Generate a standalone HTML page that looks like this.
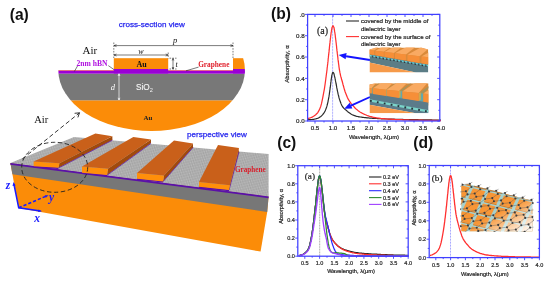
<!DOCTYPE html>
<html><head><meta charset="utf-8"><title>Figure</title>
<style>html,body{margin:0;padding:0;background:#fff}svg{display:block}text{white-space:pre}</style></head>
<body>
<svg width="550" height="285" viewBox="0 0 550 285">
<rect width="550" height="285" fill="#fff"/>
<text x="9.7" y="20.1" font-family='"Liberation Sans", sans-serif' font-size="15.6" fill="#111" text-anchor="start" font-weight="bold" font-style="normal" >(a)</text>
<text x="271.0" y="18.6" font-family='"Liberation Sans", sans-serif' font-size="15.6" fill="#111" text-anchor="start" font-weight="bold" font-style="normal" >(b)</text>
<text x="277.2" y="148.3" font-family='"Liberation Sans", sans-serif' font-size="15.6" fill="#111" text-anchor="start" font-weight="bold" font-style="normal" >(c)</text>
<text x="413.2" y="148.1" font-family='"Liberation Sans", sans-serif' font-size="15.6" fill="#111" text-anchor="start" font-weight="bold" font-style="normal" >(d)</text>
<defs><clipPath id="ell"><ellipse cx="151.6" cy="70" rx="93.3" ry="61"/></clipPath>
<pattern id="mesh" width="4" height="4" patternUnits="userSpaceOnUse" patternTransform="matrix(1.5 0.2 1.36 -0.62 0 0)"><rect width="4" height="4" fill="#d0d0d0"/><path d="M0 0.5 H4 M0 1.5 H4 M0 2.5 H4 M0 3.5 H4 M0.5 0 V4 M1.5 0 V4 M2.5 0 V4 M3.5 0 V4" stroke="#8a8a8a" stroke-width="0.3" fill="none"/></pattern>
</defs>
<g clip-path="url(#ell)">
<rect x="50" y="100.3" width="210" height="40" fill="#fb8c08"/>
<rect x="50" y="73.5" width="210" height="26.8" fill="#787878"/>
<rect x="50" y="70.9" width="210" height="2.7" fill="#9a00d6"/>
<rect x="50" y="70.45" width="210" height="0.55" fill="#d0102a"/>
<rect x="113.8" y="58.2" width="54.4" height="11" fill="#fb8c08"/>
<rect x="113.8" y="69" width="54.4" height="4.5" fill="#9a00d6"/>
<rect x="233" y="58.2" width="20" height="11" fill="#fb8c08"/>
<rect x="233" y="69" width="20" height="4.5" fill="#9a00d6"/>
</g>
<g stroke="#222" stroke-width="0.6" fill="none">
<path d="M113.8 42.5 V58" stroke-dasharray="1.6 1.2"/>
<path d="M233 42.5 V58" stroke-dasharray="1.6 1.2"/>
<path d="M168.2 52.5 V58.5" stroke-dasharray="1.6 1.2"/>
<path d="M114 45.6 H233 M114 55 H168"/>
<path d="M116.5 44.6 L114 45.6 L116.5 46.6 M230.5 44.6 L233 45.6 L230.5 46.6 M116.5 54 L114 55 L116.5 56 M165.700 54 L168.2 55 L165.7 56"/>
<path d="M169.5 58.2 H176.5 M169.5 69 H176.5" stroke-dasharray="1.6 1.2"/>
<path d="M173 58.5 V69 M172.2 60.5 L173 58.5 L173.8 60.500 M172.2 67 L173 69 L173.8 67"/>
<path d="M77.5 66 L74.4 71.4 M108.3 65.6 L114 69.6 M198.6 67.1 L186 70.8"/>
</g>
<path d="M119 73.8 V100 M118.100 76 L119 73.8 L119.9 76 M118.1 97.800 L119 100 L119.9 97.8" stroke="#fff" stroke-width="0.7" fill="none"/>
<text x="151.8" y="27.2" font-family='"Liberation Sans", sans-serif' font-size="8.1" fill="#2525ee" text-anchor="middle" font-weight="normal" font-style="normal" stroke="#2525ee" stroke-width="0.25">cross-section view</text>
<text x="217" y="137.4" font-family='"Liberation Sans", sans-serif' font-size="8.1" fill="#2525ee" text-anchor="middle" font-weight="normal" font-style="normal" stroke="#2525ee" stroke-width="0.25">perspective view</text>
<text x="82.5" y="54.2" font-family='"Liberation Serif", serif' font-size="11" fill="#111" text-anchor="start" font-weight="normal" font-style="normal" >Air</text>
<text x="34.2" y="123" font-family='"Liberation Serif", serif' font-size="10.5" fill="#111" text-anchor="start" font-weight="normal" font-style="normal" >Air</text>
<text x="76.5" y="66.3" font-family='"Liberation Serif", serif' font-size="7.6" fill="#b010e0" text-anchor="start" font-weight="bold" font-style="normal" >2nm hBN</text>
<text x="198.2" y="66.8" font-family='"Liberation Serif", serif' font-size="7.3" fill="#e0202c" text-anchor="start" font-weight="bold" font-style="normal" >Graphene</text>
<text x="141.5" y="66.8" font-family='"Liberation Serif", serif' font-size="8" fill="#111" text-anchor="middle" font-weight="bold" font-style="normal" >Au</text>
<text x="148" y="120" font-family='"Liberation Serif", serif' font-size="7" fill="#222" text-anchor="middle" font-weight="bold" font-style="normal" >Au</text>
<text x="136" y="90.3" font-family='"Liberation Sans", sans-serif' font-size="8.2" fill="#f4f4f4" text-anchor="start" font-weight="normal" font-style="normal" stroke="#f4f4f4" stroke-width="0.15">SiO</text>
<text x="149.8" y="92.4" font-family='"Liberation Sans", sans-serif' font-size="5.6" fill="#f4f4f4" text-anchor="start" font-weight="normal" font-style="normal" >2</text>
<text x="110.8" y="90.2" font-family='"Liberation Serif", serif' font-size="8.5" fill="#fff" text-anchor="start" font-weight="normal" font-style="italic" >d</text>
<text x="140.8" y="54" font-family='"Liberation Serif", serif' font-size="8" fill="#111" text-anchor="middle" font-weight="normal" font-style="italic" >w</text>
<text x="175.2" y="43.2" font-family='"Liberation Serif", serif' font-size="8.5" fill="#111" text-anchor="middle" font-weight="normal" font-style="italic" >p</text>
<text x="175.5" y="66.6" font-family='"Liberation Serif", serif' font-size="8" fill="#111" text-anchor="start" font-weight="normal" font-style="italic" >t</text>
<polygon points="10.4,163 268.6,196.5 267.2,212 260.6,251.6 18.5,208" fill="#fb8c08"/>
<polygon points="10.4,163 268.6,196.5 267.2,212 12.4,174.300" fill="#777"/>
<polygon points="10.4,163 74,137 268.6,154 268.6,196.5" fill="url(#mesh)"/>
<path d="M10.4 163.8 L268.6 197.3" stroke="#5b10a8" stroke-width="1.8"/>
<polygon points="59.4,163.2 112.4,136.3 112.4,139.9 58.4,167.79999999999998" fill="#a04a0c"/>
<path d="M58.4 168.1 L112.4 140.20000000000002" stroke="#5b10a8" stroke-width="0.7"/>
<polygon points="33.6,165.7 58.4,167.29999999999998 58.4,168.99999999999997 33.6,167.39999999999998" fill="#5b10a8"/>
<polygon points="33.6,161.6 59.4,163.2 58.4,167.79999999999998 33.6,166.2" fill="#ff8f0a"/>
<polygon points="33.6,161.6 59.4,163.2 112.4,136.3 95.4,133.5" fill="#c9601a"/>
<polygon points="108,168.8 151,139.5 151,143.1 107,175.0" fill="#a04a0c"/>
<path d="M107 175.3 L151 143.4" stroke="#5b10a8" stroke-width="0.7"/>
<polygon points="82,172.29999999999998 107,174.5 107,176.2 82,173.99999999999997" fill="#5b10a8"/>
<polygon points="82,166.6 108,168.8 107,175.0 82,172.79999999999998" fill="#ff8f0a"/>
<polygon points="82,166.6 108,168.8 151,139.5 133.3,137" fill="#c9601a"/>
<polygon points="164,175.6 193,143.6 193,147.2 163,181.4" fill="#a04a0c"/>
<path d="M163 181.70000000000002 L193 147.5" stroke="#5b10a8" stroke-width="0.7"/>
<polygon points="137,178.3 163,180.9 163,182.6 137,180.0" fill="#5b10a8"/>
<polygon points="137,173 164,175.6 163,181.4 137,178.8" fill="#ff8f0a"/>
<polygon points="137,173 164,175.6 193,143.6 174,140.4" fill="#c9601a"/>
<polygon points="230,185.2 239,148 239,151.6 229,190.0" fill="#a04a0c"/>
<path d="M229 190.3 L239 151.9" stroke="#5b10a8" stroke-width="0.7"/>
<polygon points="199,186.3 229,189.5 229,191.2 199,188.0" fill="#5b10a8"/>
<polygon points="199,182 230,185.2 229,190.0 199,186.8" fill="#ff8f0a"/>
<polygon points="199,182 230,185.2 239,148 218,145" fill="#c9601a"/>
<ellipse cx="54.7" cy="167.3" rx="33" ry="25" fill="none" stroke="#222" stroke-width="0.9" stroke-dasharray="4.4 2.6"/>
<path d="M22.3 159 L79.5 112.8" fill="none" stroke="#222" stroke-width="0.9" stroke-dasharray="4.4 2.6"/>
<path d="M74.6 113.300 L79.5 112.8 L77.9 117.400" fill="none" stroke="#222" stroke-width="0.9"/>
<g stroke="#1a1aff" fill="none" stroke-width="1.5"><path d="M13.9 184 L18.700 207.800 L40.5 211"/><path d="M18.7 207.8 L46.5 196" stroke-dasharray="3.200 2"/></g>
<g fill="#1a1aff"><polygon points="13.500,182 12.500,186 15.600,185.400"/><polygon points="42,211.200 38.500,209.400 38.100,212.100"/><polygon points="48.500,195.200 44.700,195.300 45.800,197.800"/></g>
<text x="5.8" y="188.6" font-family='"Liberation Serif", serif' font-size="11.5" fill="#1a1aff" text-anchor="start" font-weight="bold" font-style="italic" >z</text>
<text x="49" y="201" font-family='"Liberation Serif", serif' font-size="11.5" fill="#1a1aff" text-anchor="start" font-weight="bold" font-style="italic" >y</text>
<text x="34.2" y="222" font-family='"Liberation Serif", serif' font-size="11.5" fill="#1a1aff" text-anchor="start" font-weight="bold" font-style="italic" >x</text>
<text x="235" y="171.6" font-family='"Liberation Serif", serif' font-size="7.2" fill="#d8202c" text-anchor="start" font-weight="bold" font-style="normal" >Graphene</text>
<path d="M332.6 14.4 V121" stroke="#4a4aff" stroke-width="0.6" stroke-dasharray="0.8 0.7"/>
<path d="M307.8 119.8 L308.5 119.7 L309.2 119.7 L310.0 119.6 L310.7 119.6 L311.4 119.5 L312.1 119.5 L312.8 119.4 L313.6 119.3 L314.3 119.2 L315.0 119.0 L315.7 118.9 L316.4 118.7 L317.2 118.5 L317.9 118.2 L318.6 117.9 L319.3 117.5 L320.0 117.0 L320.8 116.5 L321.5 115.9 L322.2 115.2 L322.9 114.4 L323.6 113.4 L324.4 112.3 L325.1 111.0 L325.8 109.3 L325.8 109.3 L325.9 109.0 L326.1 108.6 L326.2 108.2 L326.4 107.8 L326.5 107.3 L326.5 107.3 L326.7 106.9 L326.8 106.4 L327.0 105.9 L327.1 105.4 L327.2 104.9 L327.2 104.9 L327.4 104.3 L327.5 103.7 L327.7 103.1 L327.8 102.5 L328.0 101.8 L328.0 101.8 L328.1 101.1 L328.2 100.4 L328.4 99.7 L328.5 98.9 L328.7 98.1 L328.7 98.1 L328.8 97.3 L329.0 96.4 L329.1 95.5 L329.3 94.5 L329.4 93.6 L329.4 93.6 L329.5 92.6 L329.7 91.6 L329.8 90.5 L330.0 89.5 L330.1 88.4 L330.1 88.4 L330.3 87.2 L330.4 86.1 L330.6 84.9 L330.7 83.7 L330.8 82.6 L330.8 82.6 L331.0 81.4 L331.1 80.3 L331.3 79.2 L331.4 78.2 L331.6 77.2 L331.6 77.2 L331.7 76.3 L331.8 75.5 L332.0 74.7 L332.1 74.1 L332.3 73.5 L332.3 73.5 L332.4 73.1 L332.6 72.7 L332.7 72.5 L332.9 72.3 L333.0 72.3 L333.0 72.3 L333.0 72.3 L333.1 72.3 L333.3 72.5 L333.4 72.7 L333.6 72.9 L333.7 73.3 L333.7 73.3 L333.9 73.7 L334.0 74.1 L334.2 74.6 L334.3 75.1 L334.4 75.7 L334.4 75.7 L334.6 76.3 L334.7 76.9 L334.9 77.6 L335.0 78.2 L335.2 78.9 L335.2 78.9 L335.3 79.7 L335.4 80.4 L335.6 81.2 L335.7 81.9 L335.9 82.7 L335.9 82.7 L336.0 83.5 L336.2 84.3 L336.3 85.0 L336.5 85.8 L336.6 86.6 L336.6 86.6 L336.7 87.4 L336.9 88.1 L337.0 88.8 L337.2 89.6 L337.3 90.3 L337.3 90.3 L337.5 91.0 L337.6 91.7 L337.8 92.4 L337.9 93.0 L338.0 93.6 L338.0 93.6 L338.2 94.3 L338.3 94.9 L338.5 95.5 L338.6 96.0 L338.8 96.6 L338.8 96.6 L338.9 97.1 L339.0 97.7 L339.2 98.2 L339.3 98.7 L339.5 99.2 L339.5 99.2 L339.6 99.7 L339.8 100.1 L339.9 100.6 L340.1 101.0 L340.2 101.4 L340.2 101.4 L340.3 101.8 L340.5 102.2 L340.6 102.6 L340.8 103.0 L340.9 103.3 L340.9 103.3 L341.1 103.7 L341.2 104.0 L341.4 104.3 L341.5 104.7 L341.6 105.0 L341.6 105.0 L341.8 105.2 L341.9 105.5 L342.1 105.8 L342.2 106.1 L342.4 106.3 L342.4 106.3 L342.5 106.5 L342.6 106.7 L342.8 107.0 L342.9 107.2 L343.1 107.3 L343.1 107.3 L343.2 107.5 L343.4 107.7 L343.5 107.9 L343.7 108.0 L343.8 108.2 L344.5 108.9 L345.2 109.5 L346.0 110.1 L346.7 110.7 L347.4 111.4 L348.1 112.0 L348.8 112.6 L349.6 113.1 L350.3 113.6 L351.0 114.1 L351.7 114.5 L352.4 114.8 L353.2 115.2 L353.9 115.4 L354.6 115.7 L355.3 115.9 L356.0 116.1 L356.8 116.3 L357.5 116.5 L358.2 116.6 L358.9 116.8 L359.6 116.9 L360.4 117.0 L361.1 117.1 L361.8 117.2 L362.5 117.3 L363.2 117.4 L364.0 117.5 L364.7 117.6 L365.4 117.7 L366.1 117.7 L366.8 117.8 L367.6 117.9 L368.3 117.9 L369.0 118.0 L369.7 118.1 L370.4 118.1 L371.2 118.2 L371.9 118.2 L372.6 118.3 L373.3 118.3 L374.0 118.4 L374.8 118.4 L375.5 118.5 L376.2 118.5 L376.9 118.5 L377.6 118.6 L378.4 118.6 L379.1 118.7 L379.8 118.7 L380.5 118.7 L381.2 118.8 L382.0 118.8 L382.7 118.9 L383.4 118.9 L384.1 118.9 L384.8 118.9 L385.6 119.0 L386.3 119.0 L387.0 119.0 L387.7 119.0 L388.4 119.1 L389.2 119.1 L389.9 119.1 L390.6 119.1 L391.3 119.2 L392.0 119.2 L392.8 119.2 L393.5 119.2 L394.2 119.2 L394.9 119.3 L395.6 119.3 L396.4 119.3 L397.1 119.3 L397.8 119.3 L398.5 119.3 L399.2 119.4 L400.0 119.4 L400.7 119.4 L401.4 119.4 L402.1 119.4 L402.8 119.4 L403.6 119.5 L404.3 119.5 L405.0 119.5 L405.7 119.5 L406.4 119.5 L407.2 119.5 L407.9 119.5 L408.6 119.6 L409.3 119.6 L410.0 119.6 L410.8 119.6 L411.5 119.6 L412.2 119.6 L412.9 119.7 L413.6 119.7 L414.4 119.7 L415.1 119.7 L415.8 119.7 L416.5 119.7 L417.2 119.7 L418.0 119.7 L418.7 119.8 L419.4 119.8 L420.1 119.8 L420.8 119.8 L421.6 119.8 L422.3 119.8 L423.0 119.8 L423.7 119.8 L424.4 119.8 L425.2 119.9 L425.9 119.9 L426.6 119.9 L427.3 119.9 L428.0 119.9 L428.8 119.9 L429.5 119.9 L430.2 119.9 L430.9 119.9 L431.6 119.9 L432.4 120.0 L433.1 120.0 L433.8 120.0 L434.5 120.0 L435.2 120.0 L436.0 120.0 L436.7 120.0 L437.4 120.0 L438.1 120.0 L438.8 120.0 L439.6 120.1 L440.3 120.1 L441.0 120.1" fill="none" stroke="#2a2a2a" stroke-width="1.2" stroke-linejoin="round"/>
<path d="M307.8 118.6 L308.5 118.4 L309.2 118.2 L310.0 118.0 L310.7 117.7 L311.4 117.4 L312.1 117.1 L312.8 116.7 L313.6 116.3 L314.3 115.8 L315.0 115.3 L315.7 114.7 L316.4 114.0 L317.2 113.3 L317.9 112.3 L318.6 111.2 L319.3 109.9 L320.0 108.2 L320.8 106.2 L321.5 103.7 L322.2 100.4 L322.9 96.8 L323.6 93.1 L324.4 88.8 L325.1 84.1 L325.8 79.0 L325.8 79.0 L325.9 77.9 L326.1 76.8 L326.2 75.7 L326.4 74.6 L326.5 73.4 L326.5 73.4 L326.7 72.3 L326.8 71.2 L327.0 70.0 L327.1 68.8 L327.2 67.6 L327.2 67.6 L327.4 66.4 L327.5 65.2 L327.7 63.9 L327.8 62.6 L328.0 61.4 L328.0 61.4 L328.1 60.0 L328.2 58.7 L328.4 57.4 L328.5 56.0 L328.7 54.7 L328.7 54.7 L328.8 53.3 L329.0 51.9 L329.1 50.6 L329.3 49.2 L329.4 47.8 L329.4 47.8 L329.5 46.5 L329.7 45.1 L329.8 43.8 L330.0 42.4 L330.1 41.1 L330.1 41.1 L330.3 39.8 L330.4 38.6 L330.6 37.4 L330.7 36.2 L330.8 35.1 L330.8 35.1 L331.0 34.0 L331.1 32.9 L331.3 31.9 L331.4 31.0 L331.6 30.1 L331.6 30.1 L331.7 29.3 L331.8 28.6 L332.0 28.0 L332.1 27.4 L332.3 26.9 L332.3 26.9 L332.4 26.5 L332.6 26.2 L332.7 26.0 L332.9 25.9 L333.0 25.8 L333.0 25.8 L333.0 25.8 L333.1 25.9 L333.3 26.0 L333.4 26.2 L333.6 26.5 L333.7 26.9 L333.7 26.9 L333.9 27.4 L334.0 28.0 L334.2 28.6 L334.3 29.3 L334.4 30.1 L334.4 30.1 L334.6 31.0 L334.7 31.9 L334.9 32.8 L335.0 33.8 L335.2 34.9 L335.2 34.9 L335.3 36.0 L335.4 37.1 L335.6 38.3 L335.7 39.5 L335.9 40.7 L335.9 40.7 L336.0 42.0 L336.2 43.2 L336.3 44.5 L336.5 45.8 L336.6 47.0 L336.6 47.0 L336.7 48.3 L336.9 49.6 L337.0 50.9 L337.2 52.1 L337.3 53.4 L337.3 53.4 L337.5 54.6 L337.6 55.8 L337.8 57.1 L337.9 58.2 L338.0 59.4 L338.0 59.4 L338.2 60.6 L338.3 61.7 L338.5 62.9 L338.6 64.0 L338.8 65.0 L338.8 65.0 L338.9 66.1 L339.0 67.1 L339.2 68.1 L339.3 69.1 L339.5 70.0 L339.5 70.0 L339.6 70.8 L339.8 71.6 L339.9 72.4 L340.1 73.1 L340.2 73.8 L340.2 73.8 L340.3 74.5 L340.5 75.1 L340.6 75.7 L340.8 76.3 L340.9 76.9 L340.9 76.9 L341.1 77.5 L341.2 78.0 L341.4 78.5 L341.5 79.1 L341.6 79.6 L341.6 79.6 L341.8 80.1 L341.9 80.6 L342.1 81.1 L342.2 81.6 L342.4 82.1 L342.4 82.1 L342.5 82.6 L342.6 83.1 L342.8 83.6 L342.9 84.2 L343.1 84.7 L343.1 84.7 L343.2 85.3 L343.4 85.8 L343.5 86.3 L343.7 86.8 L343.8 87.3 L344.5 89.8 L345.2 92.0 L346.0 94.0 L346.7 95.8 L347.4 97.5 L348.1 98.9 L348.8 100.2 L349.6 101.3 L350.3 102.3 L351.0 103.3 L351.7 104.1 L352.4 105.0 L353.2 105.8 L353.9 106.6 L354.6 107.5 L355.3 108.2 L356.0 108.9 L356.8 109.5 L357.5 110.1 L358.2 110.7 L358.9 111.2 L359.6 111.7 L360.4 112.2 L361.1 112.6 L361.8 113.0 L362.5 113.4 L363.2 113.7 L364.0 114.1 L364.7 114.4 L365.4 114.7 L366.1 115.0 L366.8 115.3 L367.6 115.6 L368.3 115.8 L369.0 116.1 L369.7 116.3 L370.4 116.5 L371.2 116.7 L371.9 116.9 L372.6 117.1 L373.3 117.3 L374.0 117.4 L374.8 117.6 L375.5 117.7 L376.2 117.8 L376.9 117.9 L377.6 118.0 L378.4 118.1 L379.1 118.2 L379.8 118.3 L380.5 118.4 L381.2 118.5 L382.0 118.5 L382.7 118.6 L383.4 118.7 L384.1 118.7 L384.8 118.8 L385.6 118.8 L386.3 118.9 L387.0 119.0 L387.7 119.0 L388.4 119.1 L389.2 119.1 L389.9 119.2 L390.6 119.2 L391.3 119.2 L392.0 119.3 L392.8 119.3 L393.5 119.4 L394.2 119.4 L394.9 119.4 L395.6 119.5 L396.4 119.5 L397.1 119.5 L397.8 119.6 L398.5 119.6 L399.2 119.6 L400.0 119.7 L400.7 119.7 L401.4 119.7 L402.1 119.7 L402.8 119.8 L403.6 119.8 L404.3 119.8 L405.0 119.8 L405.7 119.9 L406.4 119.9 L407.2 119.9 L407.9 119.9 L408.6 119.9 L409.3 120.0 L410.0 120.0 L410.8 120.0 L411.5 120.0 L412.2 120.0 L412.9 120.1 L413.6 120.1 L414.4 120.1 L415.1 120.1 L415.8 120.1 L416.5 120.1 L417.2 120.1 L418.0 120.2 L418.7 120.2 L419.4 120.2 L420.1 120.2 L420.8 120.2 L421.6 120.2 L422.3 120.2 L423.0 120.3 L423.7 120.3 L424.4 120.3 L425.2 120.3 L425.9 120.3 L426.6 120.3 L427.3 120.3 L428.0 120.3 L428.8 120.3 L429.5 120.3 L430.2 120.4 L430.9 120.4 L431.6 120.4 L432.4 120.4 L433.1 120.4 L433.8 120.4 L434.5 120.4 L435.2 120.4 L436.0 120.4 L436.7 120.4 L437.4 120.4 L438.1 120.5 L438.8 120.5 L439.6 120.5 L440.3 120.5 L441.0 120.5" fill="none" stroke="#ff3030" stroke-width="1.25" stroke-linejoin="round"/>
<rect x="307.6" y="14.4" width="132.2" height="106.6" fill="none" stroke="#4040ff" stroke-width="1.25"/>
<path d="M315.0 121 v2.6 M315.0 14.4 v2.6 M333.0 121 v2.6 M333.0 14.4 v2.6 M351.0 121 v2.6 M351.0 14.4 v2.6 M369.0 121 v2.6 M369.0 14.4 v2.6 M387.0 121 v2.6 M387.0 14.4 v2.6 M405.0 121 v2.6 M405.0 14.4 v2.6 M423.0 121 v2.6 M423.0 14.4 v2.6 M324.0 121 v1.5 M324.0 14.4 v1.5 M342.0 121 v1.5 M342.0 14.4 v1.5 M360.0 121 v1.5 M360.0 14.4 v1.5 M378.0 121 v1.5 M378.0 14.4 v1.5 M396.0 121 v1.5 M396.0 14.4 v1.5 M414.0 121 v1.5 M414.0 14.4 v1.5 M432.0 121 v1.5 M432.0 14.4 v1.5 M307.6 121.0 h-2.6 M439.8 121.0 h-2.6 M307.6 99.7 h-2.6 M439.8 99.7 h-2.6 M307.6 78.4 h-2.6 M439.8 78.4 h-2.6 M307.6 57.0 h-2.6 M439.8 57.0 h-2.6 M307.6 35.7 h-2.6 M439.8 35.7 h-2.6 M307.6 14.4 h-2.6 M439.8 14.4 h-2.6 M307.6 110.3 h-1.5 M439.8 110.3 h-1.5 M307.6 89.0 h-1.5 M439.8 89.0 h-1.5 M307.6 67.7 h-1.5 M439.8 67.7 h-1.5 M307.6 46.4 h-1.5 M439.8 46.4 h-1.5 M307.6 25.1 h-1.5 M439.8 25.1 h-1.5" stroke="#4040ff" stroke-width="0.9" fill="none"/>
<text x="315.0" y="130.3" font-family='"Liberation Sans", sans-serif' font-size="6.2" fill="#2a2a2a" text-anchor="middle" font-weight="normal" font-style="normal" stroke="#2a2a2a" stroke-width="0.22">0.5</text>
<text x="333.0" y="130.3" font-family='"Liberation Sans", sans-serif' font-size="6.2" fill="#2a2a2a" text-anchor="middle" font-weight="normal" font-style="normal" stroke="#2a2a2a" stroke-width="0.22">1.0</text>
<text x="351.0" y="130.3" font-family='"Liberation Sans", sans-serif' font-size="6.2" fill="#2a2a2a" text-anchor="middle" font-weight="normal" font-style="normal" stroke="#2a2a2a" stroke-width="0.22">1.5</text>
<text x="369.0" y="130.3" font-family='"Liberation Sans", sans-serif' font-size="6.2" fill="#2a2a2a" text-anchor="middle" font-weight="normal" font-style="normal" stroke="#2a2a2a" stroke-width="0.22">2.0</text>
<text x="387.0" y="130.3" font-family='"Liberation Sans", sans-serif' font-size="6.2" fill="#2a2a2a" text-anchor="middle" font-weight="normal" font-style="normal" stroke="#2a2a2a" stroke-width="0.22">2.5</text>
<text x="405.0" y="130.3" font-family='"Liberation Sans", sans-serif' font-size="6.2" fill="#2a2a2a" text-anchor="middle" font-weight="normal" font-style="normal" stroke="#2a2a2a" stroke-width="0.22">3.0</text>
<text x="423.0" y="130.3" font-family='"Liberation Sans", sans-serif' font-size="6.2" fill="#2a2a2a" text-anchor="middle" font-weight="normal" font-style="normal" stroke="#2a2a2a" stroke-width="0.22">3.5</text>
<text x="441.0" y="130.3" font-family='"Liberation Sans", sans-serif' font-size="6.2" fill="#2a2a2a" text-anchor="middle" font-weight="normal" font-style="normal" stroke="#2a2a2a" stroke-width="0.22">4.0</text>
<text x="304.6" y="123.2" font-family='"Liberation Sans", sans-serif' font-size="6.2" fill="#2a2a2a" text-anchor="end" font-weight="normal" font-style="normal" stroke="#2a2a2a" stroke-width="0.22">0.0</text>
<text x="304.6" y="101.9" font-family='"Liberation Sans", sans-serif' font-size="6.2" fill="#2a2a2a" text-anchor="end" font-weight="normal" font-style="normal" stroke="#2a2a2a" stroke-width="0.22">0.2</text>
<text x="304.6" y="80.6" font-family='"Liberation Sans", sans-serif' font-size="6.2" fill="#2a2a2a" text-anchor="end" font-weight="normal" font-style="normal" stroke="#2a2a2a" stroke-width="0.22">0.4</text>
<text x="304.6" y="59.3" font-family='"Liberation Sans", sans-serif' font-size="6.2" fill="#2a2a2a" text-anchor="end" font-weight="normal" font-style="normal" stroke="#2a2a2a" stroke-width="0.22">0.6</text>
<text x="304.6" y="38.0" font-family='"Liberation Sans", sans-serif' font-size="6.2" fill="#2a2a2a" text-anchor="end" font-weight="normal" font-style="normal" stroke="#2a2a2a" stroke-width="0.22">0.8</text>
<text x="304.6" y="16.6" font-family='"Liberation Sans", sans-serif' font-size="6.2" fill="#2a2a2a" text-anchor="end" font-weight="normal" font-style="normal" stroke="#2a2a2a" stroke-width="0.22">.0</text>
<text x="374" y="139.4" font-family='"Liberation Sans", sans-serif' font-size="6.0" fill="#2a2a2a" text-anchor="middle" font-weight="normal" font-style="normal" stroke="#2a2a2a" stroke-width="0.22">Wavelength, λ(μm)</text>
<text transform="translate(289,64) rotate(-90)" font-family='"Liberation Sans", sans-serif' font-size="6.0" fill="#2a2a2a" stroke="#2a2a2a" stroke-width="0.22" text-anchor="middle">Absorptivity, α</text>
<text x="317" y="33.6" font-family='"Liberation Serif", serif' font-size="10" fill="#222" text-anchor="start" font-weight="normal" font-style="normal" stroke="#222" stroke-width="0.2">(a)</text>
<path d="M346 21 H359" stroke="#2a2a2a" stroke-width="1.1"/><path d="M346 36.600 H359" stroke="#ff3030" stroke-width="1.1"/>
<text x="361" y="23.2" font-family='"Liberation Sans", sans-serif' font-size="6.2" fill="#222" text-anchor="start" font-weight="normal" font-style="normal" stroke="#2a2a2a" stroke-width="0.22">covered by the middle of</text>
<text x="361" y="30.7" font-family='"Liberation Sans", sans-serif' font-size="6.2" fill="#222" text-anchor="start" font-weight="normal" font-style="normal" stroke="#2a2a2a" stroke-width="0.22">dielectric layer</text>
<text x="361" y="38.8" font-family='"Liberation Sans", sans-serif' font-size="6.2" fill="#222" text-anchor="start" font-weight="normal" font-style="normal" stroke="#2a2a2a" stroke-width="0.22">covered by the surface of</text>
<text x="361" y="45.5" font-family='"Liberation Sans", sans-serif' font-size="6.2" fill="#222" text-anchor="start" font-weight="normal" font-style="normal" stroke="#2a2a2a" stroke-width="0.22">dielectric layer</text>
<path d="M370 60 L346.1 56.2" stroke="#1414ff" stroke-width="1.9"/>
<polygon points="338.7,55 346.6,53.0 345.6,59.3" fill="#1414ff"/>
<path d="M370 97 L351.0 105.7" stroke="#1414ff" stroke-width="1.9"/>
<polygon points="344.2,108.8 349.7,102.8 352.4,108.6" fill="#1414ff"/>
<defs><clipPath id="in1"><polygon points="369.5,49.5 376,47.600 421,47.600 428.3,49.5 428.3,72.6 369.5,72.6"/></clipPath><clipPath id="in2"><polygon points="369.5,84.500 376,83.2 428.5,83.2 428.5,113.3 369.5,113.3"/></clipPath></defs>
<g clip-path="url(#in1)">
<polygon points="369.5,49.1 380.3,47.6 421.0,47.6 428.3,49.3 428.3,65.6 369.5,55.5" fill="#d98a3a"/>
<polygon points="369.5,54.3 428.3,64.5 428.3,72.6 415.9,72.6 369.5,62.6" fill="#5b7d86"/>
<polygon points="369.5,62.6 415.9,72.6 369.5,72.6" fill="#f69a4a"/>
<path d="M369.5,55.5 L428.3,65.6" stroke="#62d4dc" stroke-width="1.3" stroke-dasharray="2.2 1.4"/>
<path d="M369.5,56.3 L428.3,66.5" stroke="#27343a" stroke-width="1.2" stroke-dasharray="1.3 2.300" stroke-dashoffset="1"/>
<polygon points="362.5,49.2 374.2,50.6 386.9,40.3 379.6,39.7" fill="#f9aa62"/>
<polygon points="362.5,49.2 374.2,50.6 374.2,55.1 362.5,53.1" fill="#f68f38"/>
<polygon points="375.3,50.7 383.8,51.8 397.8,41.8 392.5,41.3" fill="#f9aa62"/>
<polygon points="375.3,50.7 383.8,51.8 383.8,56.8 375.3,55.3" fill="#f68f38"/>
<polygon points="384.5,51.9 393.9,53.0 407.5,43.0 401.7,42.5" fill="#f9aa62"/>
<polygon points="384.5,51.9 393.9,53.0 393.9,58.5 384.5,56.9" fill="#f68f38"/>
<polygon points="395.0,53.2 405.9,54.5 418.9,44.3 412.2,43.8" fill="#f9aa62"/>
<polygon points="395.0,53.2 405.9,54.5 405.9,60.6 395.0,58.7" fill="#f68f38"/>
<polygon points="407.5,54.7 419.5,56.2 432.1,45.8 424.7,45.3" fill="#f9aa62"/>
<polygon points="407.5,54.7 419.5,56.2 419.5,63.0 407.5,60.9" fill="#f68f38"/>
<polygon points="421.5,56.4 436.3,58.2 447.8,47.5 438.7,47.0" fill="#f9aa62"/>
<polygon points="421.5,56.4 436.3,58.2 436.3,65.9 421.5,63.3" fill="#f68f38"/>
</g>
<g clip-path="url(#in2)">
<polygon points="369.5,83.2 428.6,83.2 428.6,105.5 369.5,95.3" fill="#d98a3a"/>
<polygon points="369.5,92.7 428.6,102.3 428.6,113.3 415.9,113.3 369.5,104.8" fill="#5b7b8a"/>
<polygon points="369.5,104.8 415.9,113.3 369.5,113.3" fill="#f69a4a"/>
<path d="M369.5,100.4 L428.6,111.3" stroke="#7ad4ca" stroke-width="2.3"/>
<path d="M369.5,100.7 L428.6,111.7" stroke="#27343a" stroke-width="1.900" stroke-dasharray="1.800 5.2" stroke-dashoffset="-0.5"/>
<polygon points="371.6,88.2 372.6,88.4 383.2,80.5 382.8,80.5" fill="#a8925a"/>
<polygon points="371.6,93.6 372.6,94.2 372.6,88.4 371.6,88.2" fill="#62a8ac"/>
<polygon points="371.6,88.2 372.1,87.7 372.1,92.4 371.6,93.6" fill="#d2aa48"/>
<polygon points="354.8,86.4 371.6,88.2 381.9,76.1 371.1,75.5" fill="#f9aa62"/>
<polygon points="354.8,86.4 371.6,88.2 371.6,93.6 354.8,91.0" fill="#f68f38"/>
<polygon points="386.0,89.7 387.0,89.9 397.6,82.0 397.2,82.0" fill="#a8925a"/>
<polygon points="386.0,95.9 387.0,96.4 387.0,89.9 386.0,89.7" fill="#62a8ac"/>
<polygon points="386.0,89.7 386.5,89.2 386.5,94.6 386.0,95.9" fill="#d2aa48"/>
<polygon points="373.0,88.3 386.0,89.7 397.6,78.0 389.3,77.4" fill="#f9aa62"/>
<polygon points="373.0,88.3 386.0,89.7 386.0,95.9 373.0,93.9" fill="#f68f38"/>
<polygon points="399.0,91.0 402.4,91.3 411.4,83.4 410.2,83.4" fill="#a8925a"/>
<polygon points="399.0,97.9 402.4,98.4 402.4,91.3 399.0,91.0" fill="#62a8ac"/>
<polygon points="399.0,91.0 400.5,90.5 400.5,96.7 399.0,97.9" fill="#d2aa48"/>
<polygon points="386.6,89.7 399.0,91.0 410.8,79.4 402.9,78.8" fill="#f9aa62"/>
<polygon points="386.6,89.7 399.0,91.0 399.0,97.9 386.6,96.0" fill="#f68f38"/>
<polygon points="418.7,93.1 423.3,93.4 431.5,85.5 429.9,85.5" fill="#a8925a"/>
<polygon points="418.7,101.0 423.3,101.5 423.3,93.4 418.7,93.1" fill="#62a8ac"/>
<polygon points="418.7,93.1 420.8,92.6 420.8,99.8 418.7,101.0" fill="#d2aa48"/>
<polygon points="402.4,91.4 418.7,93.1 429.1,81.1 418.7,80.5" fill="#f9aa62"/>
<polygon points="402.4,91.4 418.7,93.1 418.7,101.0 402.4,98.5" fill="#f68f38"/>
<polygon points="446.5,96.0 451.0,96.3 459.3,88.4 457.7,88.4" fill="#a8925a"/>
<polygon points="446.5,105.4 451.0,105.9 451.0,96.3 446.5,96.0" fill="#62a8ac"/>
<polygon points="446.5,96.0 448.5,95.5 448.5,104.1 446.5,105.4" fill="#d2aa48"/>
<polygon points="423.3,93.6 446.5,96.0 454.4,83.3 439.6,82.6" fill="#f9aa62"/>
<polygon points="423.3,93.6 446.5,96.0 446.5,105.4 423.3,101.8" fill="#f68f38"/>
</g>
<path d="M319.7 165.7 V256.2" stroke="#666" stroke-width="0.6" stroke-dasharray="1 0.6"/>
<path d="M298.9 255.6 L299.5 255.5 L300.1 255.3 L300.7 255.2 L301.3 255.0 L301.9 254.8 L302.5 254.5 L303.1 254.3 L303.6 254.0 L304.2 253.6 L304.8 253.2 L305.4 252.8 L306.0 252.2 L306.6 251.6 L307.2 250.8 L307.8 249.9 L308.4 248.8 L309.0 247.4 L309.6 245.8 L310.1 243.6 L310.7 240.9 L311.3 237.8 L311.9 234.5 L312.5 230.6 L313.1 226.2 L313.7 221.4 L313.7 221.4 L313.8 220.4 L313.9 219.4 L314.0 218.4 L314.2 217.4 L314.3 216.4 L314.3 216.4 L314.4 215.3 L314.5 214.3 L314.6 213.3 L314.8 212.2 L314.9 211.2 L314.9 211.2 L315.0 210.1 L315.1 209.1 L315.2 208.0 L315.3 206.9 L315.5 205.8 L315.5 205.8 L315.6 204.7 L315.7 203.6 L315.8 202.5 L315.9 201.4 L316.1 200.2 L316.1 200.2 L316.2 199.1 L316.3 197.9 L316.4 196.8 L316.5 195.6 L316.6 194.5 L316.6 194.5 L316.8 193.4 L316.9 192.2 L317.0 191.1 L317.1 190.0 L317.2 188.9 L317.2 188.9 L317.4 187.9 L317.5 186.8 L317.6 185.8 L317.7 184.8 L317.8 183.9 L317.8 183.9 L317.9 183.0 L318.1 182.2 L318.2 181.4 L318.3 180.6 L318.4 179.9 L318.4 179.9 L318.5 179.3 L318.7 178.7 L318.8 178.2 L318.9 177.7 L319.0 177.4 L319.0 177.4 L319.1 177.1 L319.2 176.8 L319.4 176.7 L319.5 176.6 L319.6 176.6 L319.6 176.6 L319.6 176.6 L319.7 176.7 L319.8 176.8 L320.0 177.0 L320.1 177.3 L320.2 177.7 L320.2 177.7 L320.3 178.2 L320.4 178.7 L320.5 179.2 L320.7 179.9 L320.8 180.6 L320.8 180.6 L320.9 181.3 L321.0 182.1 L321.1 183.0 L321.3 183.8 L321.4 184.8 L321.4 184.8 L321.5 185.7 L321.6 186.7 L321.7 187.7 L321.8 188.7 L322.0 189.8 L322.0 189.8 L322.1 190.8 L322.2 191.9 L322.3 193.0 L322.4 194.1 L322.6 195.2 L322.6 195.2 L322.7 196.3 L322.8 197.4 L322.9 198.4 L323.0 199.5 L323.1 200.6 L323.1 200.6 L323.3 201.6 L323.4 202.7 L323.5 203.7 L323.6 204.7 L323.7 205.7 L323.7 205.7 L323.9 206.7 L324.0 207.7 L324.1 208.6 L324.2 209.5 L324.3 210.4 L324.3 210.4 L324.4 211.3 L324.6 212.2 L324.7 213.1 L324.8 213.8 L324.9 214.6 L324.9 214.6 L325.0 215.3 L325.2 216.0 L325.3 216.7 L325.4 217.3 L325.5 217.9 L325.5 217.9 L325.6 218.4 L325.7 219.0 L325.9 219.5 L326.0 220.0 L326.1 220.5 L326.1 220.5 L326.2 220.9 L326.3 221.4 L326.5 221.8 L326.6 222.3 L326.7 222.7 L326.7 222.7 L326.8 223.1 L326.9 223.6 L327.0 224.0 L327.2 224.4 L327.3 224.8 L327.3 224.8 L327.4 225.3 L327.5 225.7 L327.6 226.1 L327.8 226.6 L327.9 227.0 L327.9 227.0 L328.0 227.5 L328.1 227.9 L328.2 228.4 L328.3 228.8 L328.5 229.2 L329.1 231.2 L329.6 233.0 L330.2 234.7 L330.8 236.2 L331.4 237.6 L332.0 238.8 L332.6 239.8 L333.2 240.7 L333.8 241.5 L334.4 242.3 L335.0 243.0 L335.6 243.6 L336.1 244.2 L336.7 244.8 L337.3 245.4 L337.9 245.9 L338.5 246.4 L339.1 246.8 L339.7 247.2 L340.3 247.6 L340.9 247.9 L341.5 248.3 L342.1 248.6 L342.6 248.8 L343.2 249.1 L343.8 249.4 L344.4 249.6 L345.0 249.8 L345.6 250.0 L346.2 250.2 L346.8 250.4 L347.4 250.6 L348.0 250.8 L348.6 250.9 L349.2 251.1 L349.7 251.2 L350.3 251.3 L350.9 251.5 L351.5 251.6 L352.1 251.8 L352.7 251.9 L353.3 252.0 L353.9 252.2 L354.5 252.3 L355.1 252.4 L355.7 252.5 L356.2 252.6 L356.8 252.7 L357.4 252.7 L358.0 252.8 L358.6 252.9 L359.2 253.0 L359.8 253.0 L360.4 253.1 L361.0 253.2 L361.6 253.2 L362.2 253.3 L362.7 253.3 L363.3 253.4 L363.9 253.4 L364.5 253.5 L365.1 253.5 L365.7 253.6 L366.3 253.6 L366.9 253.7 L367.5 253.7 L368.1 253.7 L368.7 253.8 L369.2 253.8 L369.8 253.8 L370.4 253.9 L371.0 253.9 L371.6 254.0 L372.2 254.0 L372.8 254.0 L373.4 254.0 L374.0 254.1 L374.6 254.1 L375.2 254.1 L375.7 254.2 L376.3 254.2 L376.9 254.2 L377.5 254.3 L378.1 254.3 L378.7 254.3 L379.3 254.4 L379.9 254.4 L380.5 254.4 L381.1 254.5 L381.7 254.5 L382.2 254.5 L382.8 254.5 L383.4 254.6 L384.0 254.6 L384.6 254.6 L385.2 254.7 L385.8 254.7 L386.4 254.7 L387.0 254.7 L387.6 254.8 L388.2 254.8 L388.7 254.8 L389.3 254.8 L389.9 254.8 L390.5 254.9 L391.1 254.9 L391.7 254.9 L392.3 254.9 L392.9 254.9 L393.5 255.0 L394.1 255.0 L394.7 255.0 L395.2 255.0 L395.8 255.0 L396.4 255.0 L397.0 255.1 L397.6 255.1 L398.2 255.1 L398.8 255.1 L399.4 255.1 L400.0 255.1 L400.6 255.2 L401.2 255.2 L401.7 255.2 L402.3 255.2 L402.9 255.2 L403.5 255.2 L404.1 255.2 L404.7 255.2 L405.3 255.3 L405.9 255.3 L406.5 255.3 L407.1 255.3 L407.7 255.3 L408.3 255.3" fill="none" stroke="#222" stroke-width="1.25" stroke-linejoin="round"/>
<path d="M298.9 255.6 L299.5 255.5 L300.1 255.3 L300.7 255.2 L301.3 255.0 L301.9 254.8 L302.5 254.5 L303.1 254.3 L303.6 254.0 L304.2 253.6 L304.8 253.2 L305.4 252.8 L306.0 252.2 L306.6 251.6 L307.2 250.8 L307.8 249.9 L308.4 248.8 L309.0 247.4 L309.6 245.8 L310.1 243.6 L310.7 240.9 L311.3 237.8 L311.9 234.5 L312.5 230.6 L313.1 226.2 L313.7 221.4 L313.7 221.4 L313.8 220.4 L313.9 219.4 L314.0 218.4 L314.2 217.4 L314.3 216.4 L314.3 216.4 L314.4 215.3 L314.5 214.3 L314.6 213.3 L314.8 212.2 L314.9 211.2 L314.9 211.2 L315.0 210.1 L315.1 209.1 L315.2 208.0 L315.3 206.9 L315.5 205.8 L315.5 205.8 L315.6 204.7 L315.7 203.6 L315.8 202.5 L315.9 201.4 L316.1 200.2 L316.1 200.2 L316.2 199.1 L316.3 197.9 L316.4 196.8 L316.5 195.6 L316.6 194.5 L316.6 194.5 L316.8 193.4 L316.9 192.2 L317.0 191.1 L317.1 190.0 L317.2 188.9 L317.2 188.9 L317.4 187.8 L317.5 186.8 L317.6 185.8 L317.7 184.8 L317.8 183.9 L317.8 183.9 L317.9 183.0 L318.1 182.1 L318.2 181.3 L318.3 180.6 L318.4 179.9 L318.4 179.9 L318.5 179.2 L318.7 178.6 L318.8 178.1 L318.9 177.7 L319.0 177.3 L319.0 177.3 L319.1 177.0 L319.2 176.8 L319.4 176.6 L319.5 176.5 L319.6 176.5 L319.6 176.5 L319.6 176.5 L319.7 176.6 L319.8 176.7 L320.0 177.0 L320.1 177.3 L320.2 177.6 L320.2 177.6 L320.3 178.1 L320.4 178.6 L320.5 179.2 L320.7 179.8 L320.8 180.5 L320.8 180.5 L320.9 181.2 L321.0 182.0 L321.1 182.9 L321.3 183.7 L321.4 184.7 L321.4 184.7 L321.5 185.6 L321.6 186.6 L321.7 187.6 L321.8 188.6 L322.0 189.7 L322.0 189.7 L322.1 190.7 L322.2 191.8 L322.3 192.9 L322.4 194.0 L322.6 195.1 L322.6 195.1 L322.7 196.2 L322.8 197.3 L322.9 198.3 L323.0 199.4 L323.1 200.5 L323.1 200.5 L323.3 201.5 L323.4 202.6 L323.5 203.6 L323.6 204.6 L323.7 205.6 L323.7 205.6 L323.9 206.6 L324.0 207.6 L324.1 208.5 L324.2 209.5 L324.3 210.4 L324.3 210.4 L324.4 211.3 L324.6 212.1 L324.7 213.0 L324.8 213.8 L324.9 214.5 L324.9 214.5 L325.0 215.3 L325.2 215.9 L325.3 216.6 L325.4 217.2 L325.5 217.8 L325.5 217.8 L325.6 218.4 L325.7 218.9 L325.9 219.4 L326.0 219.9 L326.1 220.4 L326.1 220.4 L326.2 220.9 L326.3 221.4 L326.5 221.8 L326.6 222.2 L326.7 222.7 L326.7 222.7 L326.8 223.1 L326.9 223.5 L327.0 224.0 L327.2 224.4 L327.3 224.8 L327.3 224.8 L327.4 225.2 L327.5 225.7 L327.6 226.1 L327.8 226.6 L327.9 227.0 L327.9 227.0 L328.0 227.5 L328.1 227.9 L328.2 228.4 L328.3 228.8 L328.5 229.2 L329.1 231.2 L329.6 233.1 L330.2 234.8 L330.8 236.3 L331.4 237.7 L332.0 238.9 L332.6 240.0 L333.2 240.9 L333.8 241.7 L334.4 242.4 L335.0 243.1 L335.6 243.7 L336.1 244.4 L336.7 245.0 L337.3 245.6 L337.9 246.1 L338.5 246.7 L339.1 247.1 L339.7 247.6 L340.3 248.0 L340.9 248.4 L341.5 248.7 L342.1 249.0 L342.6 249.4 L343.2 249.6 L343.8 249.9 L344.4 250.2 L345.0 250.4 L345.6 250.7 L346.2 250.9 L346.8 251.1 L347.4 251.3 L348.0 251.5 L348.6 251.7 L349.2 251.9 L349.7 252.0 L350.3 252.2 L350.9 252.3 L351.5 252.5 L352.1 252.6 L352.7 252.8 L353.3 252.9 L353.9 253.0 L354.5 253.1 L355.1 253.2 L355.7 253.3 L356.2 253.4 L356.8 253.5 L357.4 253.6 L358.0 253.6 L358.6 253.7 L359.2 253.8 L359.8 253.8 L360.4 253.9 L361.0 253.9 L361.6 254.0 L362.2 254.1 L362.7 254.1 L363.3 254.2 L363.9 254.2 L364.5 254.3 L365.1 254.3 L365.7 254.4 L366.3 254.4 L366.9 254.4 L367.5 254.5 L368.1 254.5 L368.7 254.6 L369.2 254.6 L369.8 254.6 L370.4 254.7 L371.0 254.7 L371.6 254.7 L372.2 254.8 L372.8 254.8 L373.4 254.8 L374.0 254.8 L374.6 254.9 L375.2 254.9 L375.7 254.9 L376.3 255.0 L376.9 255.0 L377.5 255.0 L378.1 255.0 L378.7 255.0 L379.3 255.1 L379.9 255.1 L380.5 255.1 L381.1 255.1 L381.7 255.1 L382.2 255.2 L382.8 255.2 L383.4 255.2 L384.0 255.2 L384.6 255.2 L385.2 255.3 L385.8 255.3 L386.4 255.3 L387.0 255.3 L387.6 255.3 L388.2 255.3 L388.7 255.3 L389.3 255.4 L389.9 255.4 L390.5 255.4 L391.1 255.4 L391.7 255.4 L392.3 255.4 L392.9 255.4 L393.5 255.4 L394.1 255.5 L394.7 255.5 L395.2 255.5 L395.8 255.5 L396.4 255.5 L397.0 255.5 L397.6 255.5 L398.2 255.5 L398.8 255.5 L399.4 255.6 L400.0 255.6 L400.6 255.6 L401.2 255.6 L401.7 255.6 L402.3 255.6 L402.9 255.6 L403.5 255.6 L404.1 255.6 L404.7 255.6 L405.3 255.6 L405.9 255.6 L406.5 255.7 L407.1 255.7 L407.7 255.7 L408.3 255.7" fill="none" stroke="#ff3030" stroke-width="1.25" stroke-linejoin="round"/>
<path d="M298.9 255.6 L299.5 255.5 L300.1 255.3 L300.7 255.2 L301.3 255.0 L301.9 254.8 L302.5 254.5 L303.1 254.3 L303.6 254.0 L304.2 253.6 L304.8 253.2 L305.4 252.8 L306.0 252.2 L306.6 251.6 L307.2 250.8 L307.8 249.9 L308.4 248.8 L309.0 247.4 L309.6 245.8 L310.1 243.6 L310.7 240.9 L311.3 237.8 L311.9 234.5 L312.5 230.6 L313.1 226.2 L313.7 221.4 L313.7 221.4 L313.8 220.4 L313.9 219.4 L314.0 218.4 L314.2 217.4 L314.3 216.4 L314.3 216.4 L314.4 215.3 L314.5 214.3 L314.6 213.3 L314.8 212.2 L314.9 211.2 L314.9 211.2 L315.0 210.1 L315.1 209.1 L315.2 208.0 L315.3 206.9 L315.5 205.8 L315.5 205.8 L315.6 204.7 L315.7 203.6 L315.8 202.5 L315.9 201.4 L316.1 200.2 L316.1 200.2 L316.2 199.1 L316.3 197.9 L316.4 196.7 L316.5 195.6 L316.6 194.4 L316.6 194.4 L316.8 193.3 L316.9 192.1 L317.0 191.0 L317.1 189.9 L317.2 188.8 L317.2 188.8 L317.4 187.7 L317.5 186.6 L317.6 185.6 L317.7 184.6 L317.8 183.6 L317.8 183.6 L317.9 182.7 L318.1 181.8 L318.2 181.0 L318.3 180.2 L318.4 179.5 L318.4 179.5 L318.5 178.8 L318.7 178.2 L318.8 177.7 L318.9 177.2 L319.0 176.8 L319.0 176.8 L319.1 176.4 L319.2 176.2 L319.4 176.0 L319.5 175.9 L319.6 175.8 L319.6 175.8 L319.6 175.8 L319.7 175.9 L319.8 176.0 L320.0 176.2 L320.1 176.4 L320.2 176.8 L320.2 176.8 L320.3 177.2 L320.4 177.7 L320.5 178.2 L320.7 178.8 L320.8 179.5 L320.8 179.5 L320.9 180.2 L321.0 180.9 L321.1 181.8 L321.3 182.6 L321.4 183.5 L321.4 183.5 L321.5 184.4 L321.6 185.4 L321.7 186.4 L321.8 187.4 L322.0 188.4 L322.0 188.4 L322.1 189.5 L322.2 190.5 L322.3 191.6 L322.4 192.7 L322.6 193.8 L322.6 193.8 L322.7 194.8 L322.8 195.9 L322.9 197.0 L323.0 198.0 L323.1 199.1 L323.1 199.1 L323.3 200.2 L323.4 201.2 L323.5 202.2 L323.6 203.2 L323.7 204.2 L323.7 204.2 L323.9 205.2 L324.0 206.2 L324.1 207.1 L324.2 208.0 L324.3 209.0 L324.3 209.0 L324.4 209.9 L324.6 210.7 L324.7 211.6 L324.8 212.4 L324.9 213.1 L324.9 213.1 L325.0 213.8 L325.2 214.5 L325.3 215.2 L325.4 215.8 L325.5 216.4 L325.5 216.4 L325.6 216.9 L325.7 217.5 L325.9 218.0 L326.0 218.5 L326.1 219.0 L326.1 219.0 L326.2 219.4 L326.3 219.9 L326.5 220.4 L326.6 220.8 L326.7 221.2 L326.7 221.2 L326.8 221.6 L326.9 222.1 L327.0 222.5 L327.2 222.9 L327.3 223.4 L327.3 223.4 L327.4 223.9 L327.5 224.4 L327.6 224.9 L327.8 225.4 L327.9 226.0 L327.9 226.0 L328.0 226.5 L328.1 227.0 L328.2 227.6 L328.3 228.1 L328.5 228.7 L329.1 231.3 L329.6 233.8 L330.2 236.1 L330.8 238.4 L331.4 240.7 L332.0 242.9 L332.6 244.8 L333.2 246.4 L333.8 248.0 L334.4 249.4 L335.0 250.6 L335.6 251.6 L336.1 252.3 L336.7 252.9 L337.3 253.5 L337.9 253.9 L338.5 254.1 L339.1 254.3 L339.7 254.4 L340.3 254.5 L340.9 254.6 L341.5 254.6 L342.1 254.7 L342.6 254.8 L343.2 254.9 L343.8 254.9 L344.4 255.0 L345.0 255.0 L345.6 255.0 L346.2 255.1 L346.8 255.1 L347.4 255.1 L348.0 255.2 L348.6 255.2 L349.2 255.2 L349.7 255.2 L350.3 255.3 L350.9 255.3 L351.5 255.3 L352.1 255.4 L352.7 255.4 L353.3 255.4 L353.9 255.5 L354.5 255.5 L355.1 255.5 L355.7 255.6 L356.2 255.6 L356.8 255.6 L357.4 255.6 L358.0 255.6 L358.6 255.6 L359.2 255.7 L359.8 255.7 L360.4 255.7 L361.0 255.7 L361.6 255.7 L362.2 255.7 L362.7 255.7 L363.3 255.8 L363.9 255.8 L364.5 255.8 L365.1 255.8 L365.7 255.8 L366.3 255.8 L366.9 255.8 L367.5 255.8 L368.1 255.8 L368.7 255.8 L369.2 255.9 L369.8 255.9 L370.4 255.9 L371.0 255.9 L371.6 255.9 L372.2 255.9 L372.8 255.9 L373.4 255.9 L374.0 255.9 L374.6 255.9 L375.2 255.9 L375.7 255.9 L376.3 255.9 L376.9 255.9 L377.5 255.9 L378.1 256.0 L378.7 256.0 L379.3 256.0 L379.9 256.0 L380.5 256.0 L381.1 256.0 L381.7 256.0 L382.2 256.0 L382.8 256.0 L383.4 256.0 L384.0 256.0 L384.6 256.0 L385.2 256.0 L385.8 256.0 L386.4 256.0 L387.0 256.0 L387.6 256.0 L388.2 256.0 L388.7 256.0 L389.3 256.0 L389.9 256.0 L390.5 256.0 L391.1 256.0 L391.7 256.0 L392.3 256.0 L392.9 256.0 L393.5 256.0 L394.1 256.0 L394.7 256.0 L395.2 256.0 L395.8 256.1 L396.4 256.1 L397.0 256.1 L397.6 256.1 L398.2 256.1 L398.8 256.1 L399.4 256.1 L400.0 256.1 L400.6 256.1 L401.2 256.1 L401.7 256.1 L402.3 256.1 L402.9 256.1 L403.5 256.1 L404.1 256.1 L404.7 256.1 L405.3 256.1 L405.9 256.1 L406.5 256.1 L407.1 256.1 L407.7 256.1 L408.3 256.1" fill="none" stroke="#2a2aff" stroke-width="1.25" stroke-linejoin="round"/>
<path d="M298.9 255.6 L299.5 255.5 L300.1 255.3 L300.7 255.2 L301.3 255.0 L301.9 254.8 L302.5 254.5 L303.1 254.3 L303.6 254.0 L304.2 253.6 L304.8 253.2 L305.4 252.8 L306.0 252.2 L306.6 251.6 L307.2 250.8 L307.8 249.9 L308.4 248.8 L309.0 247.4 L309.6 245.8 L310.1 243.6 L310.7 240.9 L311.3 237.8 L311.9 234.5 L312.5 230.6 L313.1 226.2 L313.7 221.4 L313.7 221.4 L313.8 220.4 L313.9 219.4 L314.0 218.4 L314.2 217.4 L314.3 216.4 L314.3 216.4 L314.4 215.3 L314.5 214.3 L314.6 213.3 L314.8 212.2 L314.9 211.2 L314.9 211.2 L315.0 210.1 L315.1 209.1 L315.2 208.0 L315.3 206.9 L315.5 205.8 L315.5 205.8 L315.6 204.7 L315.7 203.6 L315.8 202.5 L315.9 201.4 L316.1 200.2 L316.1 200.2 L316.2 199.1 L316.3 197.9 L316.4 196.7 L316.5 195.6 L316.6 194.4 L316.6 194.4 L316.8 193.3 L316.9 192.1 L317.0 191.0 L317.1 189.9 L317.2 188.8 L317.2 188.8 L317.4 187.7 L317.5 186.6 L317.6 185.6 L317.7 184.6 L317.8 183.6 L317.8 183.6 L317.9 182.7 L318.1 181.8 L318.2 181.0 L318.3 180.2 L318.4 179.5 L318.4 179.5 L318.5 178.8 L318.7 178.2 L318.8 177.7 L318.9 177.2 L319.0 176.8 L319.0 176.8 L319.1 176.4 L319.2 176.2 L319.4 176.0 L319.5 175.9 L319.6 175.8 L319.6 175.8 L319.6 175.8 L319.7 175.9 L319.8 176.0 L320.0 176.2 L320.1 176.4 L320.2 176.8 L320.2 176.8 L320.3 177.2 L320.4 177.7 L320.5 178.2 L320.7 178.8 L320.8 179.5 L320.8 179.5 L320.9 180.2 L321.0 180.9 L321.1 181.8 L321.3 182.6 L321.4 183.5 L321.4 183.5 L321.5 184.4 L321.6 185.4 L321.7 186.4 L321.8 187.4 L322.0 188.4 L322.0 188.4 L322.1 189.5 L322.2 190.5 L322.3 191.6 L322.4 192.7 L322.6 193.8 L322.6 193.8 L322.7 194.9 L322.8 196.0 L322.9 197.1 L323.0 198.3 L323.1 199.5 L323.1 199.5 L323.3 200.7 L323.4 201.9 L323.5 203.1 L323.6 204.3 L323.7 205.5 L323.7 205.5 L323.9 206.7 L324.0 207.8 L324.1 209.0 L324.2 210.2 L324.3 211.3 L324.3 211.3 L324.4 212.4 L324.6 213.5 L324.7 214.6 L324.8 215.6 L324.9 216.6 L324.9 216.6 L325.0 217.5 L325.2 218.5 L325.3 219.6 L325.4 220.6 L325.5 221.7 L325.5 221.7 L325.6 222.7 L325.7 223.8 L325.9 224.9 L326.0 226.0 L326.1 227.0 L326.1 227.0 L326.2 228.1 L326.3 229.2 L326.5 230.2 L326.6 231.2 L326.7 232.2 L326.7 232.2 L326.8 233.2 L326.9 234.1 L327.0 235.1 L327.2 235.9 L327.3 236.8 L327.3 236.8 L327.4 237.6 L327.5 238.4 L327.6 239.1 L327.8 239.8 L327.9 240.6 L327.9 240.6 L328.0 241.3 L328.1 242.0 L328.2 242.7 L328.3 243.4 L328.5 244.1 L329.1 247.0 L329.6 249.1 L330.2 250.4 L330.8 251.3 L331.4 252.0 L332.0 252.4 L332.6 252.7 L333.2 252.8 L333.8 252.8 L334.4 252.8 L335.0 252.8 L335.6 252.7 L336.1 252.7 L336.7 252.7 L337.3 252.8 L337.9 252.8 L338.5 252.9 L339.1 253.0 L339.7 253.0 L340.3 253.1 L340.9 253.1 L341.5 253.2 L342.1 253.3 L342.6 253.3 L343.2 253.4 L343.8 253.5 L344.4 253.6 L345.0 253.8 L345.6 254.1 L346.2 254.5 L346.8 254.9 L347.4 255.2 L348.0 255.3 L348.6 255.4 L349.2 255.5 L349.7 255.6 L350.3 255.7 L350.9 255.7 L351.5 255.8 L352.1 255.8 L352.7 255.8 L353.3 255.8 L353.9 255.9 L354.5 255.9 L355.1 255.9 L355.7 255.9 L356.2 255.9 L356.8 255.9 L357.4 255.9 L358.0 255.9 L358.6 255.9 L359.2 256.0 L359.8 256.0 L360.4 256.0 L361.0 256.0 L361.6 256.0 L362.2 256.0 L362.7 256.0 L363.3 256.0 L363.9 256.0 L364.5 256.0 L365.1 256.0 L365.7 256.0 L366.3 256.0 L366.9 256.0 L367.5 256.0 L368.1 256.0 L368.7 256.0 L369.2 256.1 L369.8 256.1 L370.4 256.1 L371.0 256.1 L371.6 256.1 L372.2 256.1 L372.8 256.1 L373.4 256.1 L374.0 256.1 L374.6 256.1 L375.2 256.1 L375.7 256.1 L376.3 256.1 L376.9 256.1 L377.5 256.1 L378.1 256.1 L378.7 256.1 L379.3 256.1 L379.9 256.1 L380.5 256.1 L381.1 256.1 L381.7 256.1 L382.2 256.1 L382.8 256.1 L383.4 256.1 L384.0 256.1 L384.6 256.1 L385.2 256.1 L385.8 256.1 L386.4 256.1 L387.0 256.1 L387.6 256.1 L388.2 256.1 L388.7 256.1 L389.3 256.1 L389.9 256.1 L390.5 256.1 L391.1 256.1 L391.7 256.1 L392.3 256.1 L392.9 256.1 L393.5 256.1 L394.1 256.1 L394.7 256.1 L395.2 256.1 L395.8 256.1 L396.4 256.1 L397.0 256.1 L397.6 256.1 L398.2 256.1 L398.8 256.1 L399.4 256.1 L400.0 256.1 L400.6 256.1 L401.2 256.1 L401.7 256.1 L402.3 256.1 L402.9 256.2 L403.5 256.2 L404.1 256.2 L404.7 256.2 L405.3 256.2 L405.9 256.2 L406.5 256.2 L407.1 256.2 L407.7 256.2 L408.3 256.2" fill="none" stroke="#2e8b2e" stroke-width="1.25" stroke-linejoin="round"/>
<path d="M298.9 255.7 L299.5 255.6 L300.1 255.5 L300.7 255.3 L301.3 255.2 L301.9 255.0 L302.5 254.8 L303.1 254.5 L303.6 254.3 L304.2 254.0 L304.8 253.6 L305.4 253.3 L306.0 252.8 L306.6 252.2 L307.2 251.6 L307.8 250.8 L308.4 249.9 L309.0 248.7 L309.6 247.3 L310.1 245.5 L310.7 243.1 L311.3 240.5 L311.9 237.5 L312.5 234.1 L313.1 230.4 L313.7 226.5 L313.7 226.5 L313.8 225.7 L313.9 224.9 L314.0 224.1 L314.2 223.4 L314.3 222.6 L314.3 222.6 L314.4 221.8 L314.5 221.1 L314.6 220.3 L314.8 219.5 L314.9 218.8 L314.9 218.8 L315.0 218.0 L315.1 217.2 L315.2 216.4 L315.3 215.7 L315.5 214.9 L315.5 214.9 L315.6 214.0 L315.7 213.2 L315.8 212.4 L315.9 211.5 L316.1 210.6 L316.1 210.6 L316.2 209.7 L316.3 208.8 L316.4 207.9 L316.5 206.9 L316.6 206.0 L316.6 206.0 L316.8 205.0 L316.9 204.0 L317.0 203.0 L317.1 202.1 L317.2 201.1 L317.2 201.1 L317.4 200.1 L317.5 199.2 L317.6 198.2 L317.7 197.2 L317.8 196.3 L317.8 196.3 L317.9 195.4 L318.1 194.5 L318.2 193.6 L318.3 192.8 L318.4 191.9 L318.4 191.9 L318.5 191.2 L318.7 190.5 L318.8 189.8 L318.9 189.2 L319.0 188.7 L319.0 188.7 L319.1 188.3 L319.2 187.9 L319.4 187.6 L319.5 187.5 L319.6 187.4 L319.6 187.4 L319.6 187.4 L319.7 187.5 L319.8 187.7 L320.0 188.1 L320.1 188.7 L320.2 189.4 L320.2 189.4 L320.3 190.2 L320.4 191.2 L320.5 192.2 L320.7 193.4 L320.8 194.7 L320.8 194.7 L320.9 196.0 L321.0 197.4 L321.1 198.8 L321.3 200.3 L321.4 201.8 L321.4 201.8 L321.5 203.3 L321.6 204.9 L321.7 206.4 L321.8 207.9 L322.0 209.4 L322.0 209.4 L322.1 210.9 L322.2 212.3 L322.3 213.7 L322.4 215.0 L322.6 216.3 L322.6 216.3 L322.7 217.5 L322.8 218.6 L322.9 219.7 L323.0 220.8 L323.1 221.8 L323.1 221.8 L323.3 222.7 L323.4 223.6 L323.5 224.4 L323.6 225.3 L323.7 226.0 L323.7 226.0 L323.9 226.8 L324.0 227.5 L324.1 228.3 L324.2 229.0 L324.3 229.6 L324.3 229.6 L324.4 230.3 L324.6 231.0 L324.7 231.6 L324.8 232.2 L324.9 232.8 L324.9 232.8 L325.0 233.3 L325.2 233.8 L325.3 234.3 L325.4 234.8 L325.5 235.3 L325.5 235.3 L325.6 235.8 L325.7 236.3 L325.9 236.8 L326.0 237.2 L326.1 237.7 L326.1 237.7 L326.2 238.2 L326.3 238.8 L326.5 239.4 L326.6 240.0 L326.7 240.7 L326.7 240.7 L326.8 241.4 L326.9 242.0 L327.0 242.7 L327.2 243.3 L327.3 244.0 L327.3 244.0 L327.4 244.6 L327.5 245.2 L327.6 245.7 L327.8 246.2 L327.9 246.7 L327.9 246.7 L328.0 247.1 L328.1 247.5 L328.2 247.9 L328.3 248.2 L328.5 248.4 L329.1 249.4 L329.6 250.3 L330.2 251.0 L330.8 251.7 L331.4 252.2 L332.0 252.6 L332.6 252.8 L333.2 253.0 L333.8 253.2 L334.4 253.4 L335.0 253.6 L335.6 253.7 L336.1 253.9 L336.7 254.0 L337.3 254.1 L337.9 254.3 L338.5 254.4 L339.1 254.6 L339.7 254.7 L340.3 254.9 L340.9 255.0 L341.5 255.2 L342.1 255.3 L342.6 255.4 L343.2 255.5 L343.8 255.6 L344.4 255.7 L345.0 255.8 L345.6 255.8 L346.2 255.9 L346.8 255.9 L347.4 255.9 L348.0 255.9 L348.6 255.9 L349.2 255.9 L349.7 255.9 L350.3 256.0 L350.9 256.0 L351.5 256.0 L352.1 256.0 L352.7 256.0 L353.3 256.0 L353.9 256.0 L354.5 256.0 L355.1 256.0 L355.7 256.0 L356.2 256.0 L356.8 256.0 L357.4 256.1 L358.0 256.1 L358.6 256.1 L359.2 256.1 L359.8 256.1 L360.4 256.1 L361.0 256.1 L361.6 256.1 L362.2 256.1 L362.7 256.1 L363.3 256.1 L363.9 256.1 L364.5 256.1 L365.1 256.1 L365.7 256.1 L366.3 256.1 L366.9 256.1 L367.5 256.1 L368.1 256.1 L368.7 256.1 L369.2 256.1 L369.8 256.1 L370.4 256.1 L371.0 256.1 L371.6 256.1 L372.2 256.1 L372.8 256.1 L373.4 256.1 L374.0 256.1 L374.6 256.1 L375.2 256.1 L375.7 256.1 L376.3 256.1 L376.9 256.1 L377.5 256.1 L378.1 256.1 L378.7 256.1 L379.3 256.2 L379.9 256.2 L380.5 256.2 L381.1 256.2 L381.7 256.2 L382.2 256.2 L382.8 256.2 L383.4 256.2 L384.0 256.2 L384.6 256.2 L385.2 256.2 L385.8 256.2 L386.4 256.2 L387.0 256.2 L387.6 256.2 L388.2 256.2 L388.7 256.2 L389.3 256.2 L389.9 256.2 L390.5 256.2 L391.1 256.2 L391.7 256.2 L392.3 256.2 L392.9 256.2 L393.5 256.2 L394.1 256.2 L394.7 256.2 L395.2 256.2 L395.8 256.2 L396.4 256.2 L397.0 256.2 L397.6 256.2 L398.2 256.2 L398.8 256.2 L399.4 256.2 L400.0 256.2 L400.6 256.2 L401.2 256.2 L401.7 256.2 L402.3 256.2 L402.9 256.2 L403.5 256.2 L404.1 256.2 L404.7 256.2 L405.3 256.2 L405.9 256.2 L406.5 256.2 L407.1 256.2 L407.7 256.2 L408.3 256.2" fill="none" stroke="#a040ff" stroke-width="1.35" stroke-linejoin="round"/>
<rect x="297.8" y="165.7" width="110.39999999999998" height="90.5" fill="none" stroke="#4040ff" stroke-width="1.25"/>
<path d="M304.8 256.2 v2.6 M304.8 165.7 v2.6 M319.6 256.2 v2.6 M319.6 165.7 v2.6 M334.4 256.2 v2.6 M334.4 165.7 v2.6 M349.1 256.2 v2.6 M349.1 165.7 v2.6 M363.9 256.2 v2.6 M363.9 165.7 v2.6 M378.7 256.2 v2.6 M378.7 165.7 v2.6 M393.5 256.2 v2.6 M393.5 165.7 v2.6 M408.2 256.2 v2.6 M408.2 165.7 v2.6 M312.2 256.2 v1.5 M312.2 165.7 v1.5 M327.0 256.2 v1.5 M327.0 165.7 v1.5 M341.8 256.2 v1.5 M341.8 165.7 v1.5 M356.5 256.2 v1.5 M356.5 165.7 v1.5 M371.3 256.2 v1.5 M371.3 165.7 v1.5 M386.1 256.2 v1.5 M386.1 165.7 v1.5 M400.9 256.2 v1.5 M400.9 165.7 v1.5 M297.8 256.2 h-2.6 M408.2 256.2 h-2.6 M297.8 238.1 h-2.6 M408.2 238.1 h-2.6 M297.8 220.0 h-2.6 M408.2 220.0 h-2.6 M297.8 201.9 h-2.6 M408.2 201.9 h-2.6 M297.8 183.8 h-2.6 M408.2 183.8 h-2.6 M297.8 165.7 h-2.6 M408.2 165.7 h-2.6 M297.8 247.1 h-1.5 M408.2 247.1 h-1.5 M297.8 229.0 h-1.5 M408.2 229.0 h-1.5 M297.8 210.9 h-1.5 M408.2 210.9 h-1.5 M297.8 192.8 h-1.5 M408.2 192.8 h-1.5 M297.8 174.8 h-1.5 M408.2 174.8 h-1.5" stroke="#4040ff" stroke-width="0.9" fill="none"/>
<text x="304.8" y="265" font-family='"Liberation Sans", sans-serif' font-size="5.5" fill="#2a2a2a" text-anchor="middle" font-weight="normal" font-style="normal" stroke="#2a2a2a" stroke-width="0.22">0.5</text>
<text x="319.6" y="265" font-family='"Liberation Sans", sans-serif' font-size="5.5" fill="#2a2a2a" text-anchor="middle" font-weight="normal" font-style="normal" stroke="#2a2a2a" stroke-width="0.22">1.0</text>
<text x="334.4" y="265" font-family='"Liberation Sans", sans-serif' font-size="5.5" fill="#2a2a2a" text-anchor="middle" font-weight="normal" font-style="normal" stroke="#2a2a2a" stroke-width="0.22">1.5</text>
<text x="349.2" y="265" font-family='"Liberation Sans", sans-serif' font-size="5.5" fill="#2a2a2a" text-anchor="middle" font-weight="normal" font-style="normal" stroke="#2a2a2a" stroke-width="0.22">2.0</text>
<text x="363.9" y="265" font-family='"Liberation Sans", sans-serif' font-size="5.5" fill="#2a2a2a" text-anchor="middle" font-weight="normal" font-style="normal" stroke="#2a2a2a" stroke-width="0.22">2.5</text>
<text x="378.7" y="265" font-family='"Liberation Sans", sans-serif' font-size="5.5" fill="#2a2a2a" text-anchor="middle" font-weight="normal" font-style="normal" stroke="#2a2a2a" stroke-width="0.22">3.0</text>
<text x="393.5" y="265" font-family='"Liberation Sans", sans-serif' font-size="5.5" fill="#2a2a2a" text-anchor="middle" font-weight="normal" font-style="normal" stroke="#2a2a2a" stroke-width="0.22">3.5</text>
<text x="408.2" y="265" font-family='"Liberation Sans", sans-serif' font-size="5.5" fill="#2a2a2a" text-anchor="middle" font-weight="normal" font-style="normal" stroke="#2a2a2a" stroke-width="0.22">4.0</text>
<text x="294.8" y="258.2" font-family='"Liberation Sans", sans-serif' font-size="5.5" fill="#2a2a2a" text-anchor="end" font-weight="normal" font-style="normal" stroke="#2a2a2a" stroke-width="0.22">0.0</text>
<text x="294.8" y="240.1" font-family='"Liberation Sans", sans-serif' font-size="5.5" fill="#2a2a2a" text-anchor="end" font-weight="normal" font-style="normal" stroke="#2a2a2a" stroke-width="0.22">0.2</text>
<text x="294.8" y="222.0" font-family='"Liberation Sans", sans-serif' font-size="5.5" fill="#2a2a2a" text-anchor="end" font-weight="normal" font-style="normal" stroke="#2a2a2a" stroke-width="0.22">0.4</text>
<text x="294.8" y="203.9" font-family='"Liberation Sans", sans-serif' font-size="5.5" fill="#2a2a2a" text-anchor="end" font-weight="normal" font-style="normal" stroke="#2a2a2a" stroke-width="0.22">0.6</text>
<text x="294.8" y="185.8" font-family='"Liberation Sans", sans-serif' font-size="5.5" fill="#2a2a2a" text-anchor="end" font-weight="normal" font-style="normal" stroke="#2a2a2a" stroke-width="0.22">0.8</text>
<text x="294.8" y="167.7" font-family='"Liberation Sans", sans-serif' font-size="5.5" fill="#2a2a2a" text-anchor="end" font-weight="normal" font-style="normal" stroke="#2a2a2a" stroke-width="0.22">1.0</text>
<text x="351" y="272.6" font-family='"Liberation Sans", sans-serif' font-size="5.7" fill="#2a2a2a" text-anchor="middle" font-weight="normal" font-style="normal" stroke="#2a2a2a" stroke-width="0.22">Wavelength, λ(μm)</text>
<text transform="translate(283.1,206.4) rotate(-90)" font-family='"Liberation Sans", sans-serif' font-size="5.6" fill="#2a2a2a" stroke="#2a2a2a" stroke-width="0.22" text-anchor="middle">Absorptivity, α</text>
<text x="304.8" y="178.6" font-family='"Liberation Serif", serif' font-size="9.2" fill="#222" text-anchor="start" font-weight="normal" font-style="normal" stroke="#222" stroke-width="0.2">(a)</text>
<path d="M369 177.0 H381.5" stroke="#222" stroke-width="1.1"/>
<text x="383" y="179.0" font-family='"Liberation Sans", sans-serif' font-size="5.5" fill="#222" text-anchor="start" font-weight="normal" font-style="normal" stroke="#2a2a2a" stroke-width="0.22">0.2 eV</text>
<path d="M369 183.8 H381.5" stroke="#ff3030" stroke-width="1.1"/>
<text x="383" y="185.8" font-family='"Liberation Sans", sans-serif' font-size="5.5" fill="#222" text-anchor="start" font-weight="normal" font-style="normal" stroke="#2a2a2a" stroke-width="0.22">0.3 eV</text>
<path d="M369 190.7 H381.5" stroke="#2a2aff" stroke-width="1.1"/>
<text x="383" y="192.7" font-family='"Liberation Sans", sans-serif' font-size="5.5" fill="#222" text-anchor="start" font-weight="normal" font-style="normal" stroke="#2a2a2a" stroke-width="0.22">0.4 eV</text>
<path d="M369 197.6 H381.5" stroke="#2e8b2e" stroke-width="1.1"/>
<text x="383" y="199.6" font-family='"Liberation Sans", sans-serif' font-size="5.5" fill="#222" text-anchor="start" font-weight="normal" font-style="normal" stroke="#2a2a2a" stroke-width="0.22">0.5 eV</text>
<path d="M369 204.4 H381.5" stroke="#a040ff" stroke-width="1.1"/>
<text x="383" y="206.4" font-family='"Liberation Sans", sans-serif' font-size="5.5" fill="#222" text-anchor="start" font-weight="normal" font-style="normal" stroke="#2a2a2a" stroke-width="0.22">0.6 eV</text>
<path d="M450.5 165.5 V257.6" stroke="#4a4aff" stroke-width="0.6" stroke-dasharray="0.8 0.7"/>
<path d="M429.9 255.6 L430.5 255.4 L431.1 255.2 L431.7 255.0 L432.2 254.8 L432.8 254.5 L433.4 254.2 L434.0 253.9 L434.6 253.5 L435.2 253.1 L435.8 252.7 L436.4 252.2 L437.0 251.6 L437.6 250.9 L438.2 250.1 L438.8 249.2 L439.4 248.0 L439.9 246.6 L440.5 244.9 L441.1 242.7 L441.7 239.9 L442.3 236.8 L442.9 233.5 L443.5 229.9 L444.1 225.8 L444.7 221.4 L444.7 221.4 L444.8 220.5 L444.9 219.5 L445.0 218.6 L445.2 217.6 L445.3 216.6 L445.3 216.6 L445.4 215.7 L445.5 214.7 L445.6 213.7 L445.7 212.7 L445.9 211.6 L445.9 211.6 L446.0 210.6 L446.1 209.5 L446.2 208.4 L446.3 207.4 L446.5 206.2 L446.5 206.2 L446.6 205.1 L446.7 204.0 L446.8 202.8 L446.9 201.7 L447.0 200.5 L447.0 200.5 L447.2 199.3 L447.3 198.1 L447.4 197.0 L447.5 195.8 L447.6 194.6 L447.6 194.6 L447.8 193.4 L447.9 192.2 L448.0 191.1 L448.1 189.9 L448.2 188.8 L448.2 188.8 L448.4 187.7 L448.5 186.6 L448.6 185.6 L448.7 184.6 L448.8 183.6 L448.8 183.6 L448.9 182.6 L449.1 181.8 L449.2 180.9 L449.3 180.1 L449.4 179.4 L449.4 179.4 L449.5 178.7 L449.7 178.1 L449.8 177.5 L449.9 177.0 L450.0 176.6 L450.0 176.6 L450.1 176.3 L450.2 176.0 L450.4 175.8 L450.5 175.7 L450.6 175.6 L450.6 175.6 L450.6 175.6 L450.7 175.7 L450.8 175.8 L451.0 176.0 L451.1 176.2 L451.2 176.6 L451.2 176.6 L451.3 177.0 L451.4 177.5 L451.5 178.0 L451.7 178.7 L451.8 179.3 L451.8 179.3 L451.9 180.1 L452.0 180.8 L452.1 181.7 L452.3 182.6 L452.4 183.5 L452.4 183.5 L452.5 184.4 L452.6 185.4 L452.7 186.4 L452.8 187.4 L453.0 188.5 L453.0 188.5 L453.1 189.6 L453.2 190.6 L453.3 191.7 L453.4 192.8 L453.6 193.9 L453.6 193.9 L453.7 195.0 L453.8 196.1 L453.9 197.2 L454.0 198.3 L454.2 199.4 L454.2 199.4 L454.3 200.4 L454.4 201.5 L454.5 202.5 L454.6 203.6 L454.7 204.6 L454.7 204.6 L454.9 205.6 L455.0 206.6 L455.1 207.5 L455.2 208.5 L455.3 209.4 L455.3 209.4 L455.5 210.3 L455.6 211.2 L455.7 212.1 L455.8 212.9 L455.9 213.7 L455.9 213.7 L456.0 214.4 L456.2 215.1 L456.3 215.7 L456.4 216.4 L456.5 217.0 L456.5 217.0 L456.6 217.6 L456.8 218.1 L456.9 218.6 L457.0 219.1 L457.1 219.6 L457.1 219.6 L457.2 220.1 L457.3 220.6 L457.5 221.0 L457.6 221.5 L457.7 221.9 L457.7 221.9 L457.8 222.4 L457.9 222.8 L458.1 223.2 L458.2 223.7 L458.3 224.1 L458.3 224.1 L458.4 224.5 L458.5 225.0 L458.7 225.4 L458.8 225.9 L458.9 226.4 L458.9 226.4 L459.0 226.8 L459.1 227.3 L459.2 227.7 L459.4 228.2 L459.5 228.6 L460.1 230.7 L460.7 232.6 L461.3 234.3 L461.8 235.9 L462.4 237.3 L463.0 238.6 L463.6 239.7 L464.2 240.7 L464.8 241.5 L465.4 242.3 L466.0 243.1 L466.6 243.8 L467.2 244.5 L467.8 245.2 L468.4 245.9 L469.0 246.6 L469.5 247.2 L470.1 247.7 L470.7 248.3 L471.3 248.7 L471.9 249.2 L472.5 249.6 L473.1 250.0 L473.7 250.4 L474.3 250.7 L474.9 251.0 L475.5 251.3 L476.1 251.6 L476.6 251.9 L477.2 252.2 L477.8 252.4 L478.4 252.7 L479.0 252.9 L479.6 253.1 L480.2 253.4 L480.8 253.6 L481.4 253.7 L482.0 253.9 L482.6 254.1 L483.2 254.2 L483.8 254.4 L484.3 254.5 L484.9 254.6 L485.5 254.8 L486.1 254.9 L486.7 255.0 L487.3 255.0 L487.9 255.1 L488.5 255.2 L489.1 255.3 L489.7 255.3 L490.3 255.4 L490.9 255.5 L491.4 255.5 L492.0 255.6 L492.6 255.6 L493.2 255.7 L493.8 255.7 L494.4 255.8 L495.0 255.8 L495.6 255.9 L496.2 255.9 L496.8 256.0 L497.4 256.0 L498.0 256.0 L498.6 256.1 L499.1 256.1 L499.7 256.2 L500.3 256.2 L500.9 256.2 L501.5 256.3 L502.1 256.3 L502.7 256.3 L503.3 256.3 L503.9 256.4 L504.5 256.4 L505.1 256.4 L505.7 256.4 L506.2 256.5 L506.8 256.5 L507.4 256.5 L508.0 256.5 L508.6 256.6 L509.2 256.6 L509.8 256.6 L510.4 256.6 L511.0 256.6 L511.6 256.7 L512.2 256.7 L512.8 256.7 L513.4 256.7 L513.9 256.7 L514.5 256.7 L515.1 256.8 L515.7 256.8 L516.3 256.8 L516.9 256.8 L517.5 256.8 L518.1 256.8 L518.7 256.8 L519.3 256.9 L519.9 256.9 L520.5 256.9 L521.0 256.9 L521.6 256.9 L522.2 256.9 L522.8 256.9 L523.4 256.9 L524.0 256.9 L524.6 257.0 L525.2 257.0 L525.8 257.0 L526.4 257.0 L527.0 257.0 L527.6 257.0 L528.2 257.0 L528.7 257.0 L529.3 257.0 L529.9 257.0 L530.5 257.0 L531.1 257.1 L531.7 257.1 L532.3 257.1 L532.9 257.1 L533.5 257.1 L534.1 257.1 L534.7 257.1 L535.3 257.1 L535.8 257.1 L536.4 257.1 L537.0 257.1 L537.6 257.1 L538.2 257.1 L538.8 257.1 L539.4 257.2" fill="none" stroke="#ff3030" stroke-width="1.3" stroke-linejoin="round"/>
<rect x="429.2" y="165.5" width="110.19999999999999" height="92.10000000000002" fill="none" stroke="#4040ff" stroke-width="1.25"/>
<path d="M435.8 257.6 v2.6 M435.8 165.5 v2.6 M450.6 257.6 v2.6 M450.6 165.5 v2.6 M465.4 257.6 v2.6 M465.4 165.5 v2.6 M480.2 257.6 v2.6 M480.2 165.5 v2.6 M495.0 257.6 v2.6 M495.0 165.5 v2.6 M509.8 257.6 v2.6 M509.8 165.5 v2.6 M524.6 257.6 v2.6 M524.6 165.5 v2.6 M539.4 257.6 v2.6 M539.4 165.5 v2.6 M443.2 257.6 v1.5 M443.2 165.5 v1.5 M458.0 257.6 v1.5 M458.0 165.5 v1.5 M472.8 257.6 v1.5 M472.8 165.5 v1.5 M487.6 257.6 v1.5 M487.6 165.5 v1.5 M502.4 257.6 v1.5 M502.4 165.5 v1.5 M517.2 257.6 v1.5 M517.2 165.5 v1.5 M532.0 257.6 v1.5 M532.0 165.5 v1.5 M429.2 257.6 h-2.6 M539.4 257.6 h-2.6 M429.2 239.2 h-2.6 M539.4 239.2 h-2.6 M429.2 220.8 h-2.6 M539.4 220.8 h-2.6 M429.2 202.3 h-2.6 M539.4 202.3 h-2.6 M429.2 183.9 h-2.6 M539.4 183.9 h-2.6 M429.2 165.5 h-2.6 M539.4 165.5 h-2.6 M429.2 248.4 h-1.5 M539.4 248.4 h-1.5 M429.2 230.0 h-1.5 M539.4 230.0 h-1.5 M429.2 211.6 h-1.5 M539.4 211.6 h-1.5 M429.2 193.1 h-1.5 M539.4 193.1 h-1.5 M429.2 174.7 h-1.5 M539.4 174.7 h-1.5" stroke="#4040ff" stroke-width="0.9" fill="none"/>
<text x="435.8" y="266.6" font-family='"Liberation Sans", sans-serif' font-size="5.5" fill="#2a2a2a" text-anchor="middle" font-weight="normal" font-style="normal" stroke="#2a2a2a" stroke-width="0.22">0.5</text>
<text x="450.6" y="266.6" font-family='"Liberation Sans", sans-serif' font-size="5.5" fill="#2a2a2a" text-anchor="middle" font-weight="normal" font-style="normal" stroke="#2a2a2a" stroke-width="0.22">1.0</text>
<text x="465.4" y="266.6" font-family='"Liberation Sans", sans-serif' font-size="5.5" fill="#2a2a2a" text-anchor="middle" font-weight="normal" font-style="normal" stroke="#2a2a2a" stroke-width="0.22">1.5</text>
<text x="480.2" y="266.6" font-family='"Liberation Sans", sans-serif' font-size="5.5" fill="#2a2a2a" text-anchor="middle" font-weight="normal" font-style="normal" stroke="#2a2a2a" stroke-width="0.22">2.0</text>
<text x="495.0" y="266.6" font-family='"Liberation Sans", sans-serif' font-size="5.5" fill="#2a2a2a" text-anchor="middle" font-weight="normal" font-style="normal" stroke="#2a2a2a" stroke-width="0.22">2.5</text>
<text x="509.8" y="266.6" font-family='"Liberation Sans", sans-serif' font-size="5.5" fill="#2a2a2a" text-anchor="middle" font-weight="normal" font-style="normal" stroke="#2a2a2a" stroke-width="0.22">3.0</text>
<text x="524.6" y="266.6" font-family='"Liberation Sans", sans-serif' font-size="5.5" fill="#2a2a2a" text-anchor="middle" font-weight="normal" font-style="normal" stroke="#2a2a2a" stroke-width="0.22">3.5</text>
<text x="539.4" y="266.6" font-family='"Liberation Sans", sans-serif' font-size="5.5" fill="#2a2a2a" text-anchor="middle" font-weight="normal" font-style="normal" stroke="#2a2a2a" stroke-width="0.22">4.0</text>
<text x="426.2" y="259.6" font-family='"Liberation Sans", sans-serif' font-size="5.5" fill="#2a2a2a" text-anchor="end" font-weight="normal" font-style="normal" stroke="#2a2a2a" stroke-width="0.22">0.0</text>
<text x="426.2" y="241.2" font-family='"Liberation Sans", sans-serif' font-size="5.5" fill="#2a2a2a" text-anchor="end" font-weight="normal" font-style="normal" stroke="#2a2a2a" stroke-width="0.22">0.2</text>
<text x="426.2" y="222.7" font-family='"Liberation Sans", sans-serif' font-size="5.5" fill="#2a2a2a" text-anchor="end" font-weight="normal" font-style="normal" stroke="#2a2a2a" stroke-width="0.22">0.4</text>
<text x="426.2" y="204.3" font-family='"Liberation Sans", sans-serif' font-size="5.5" fill="#2a2a2a" text-anchor="end" font-weight="normal" font-style="normal" stroke="#2a2a2a" stroke-width="0.22">0.6</text>
<text x="426.2" y="185.9" font-family='"Liberation Sans", sans-serif' font-size="5.5" fill="#2a2a2a" text-anchor="end" font-weight="normal" font-style="normal" stroke="#2a2a2a" stroke-width="0.22">0.8</text>
<text x="426.2" y="167.5" font-family='"Liberation Sans", sans-serif' font-size="5.5" fill="#2a2a2a" text-anchor="end" font-weight="normal" font-style="normal" stroke="#2a2a2a" stroke-width="0.22">1.0</text>
<text x="484.8" y="276" font-family='"Liberation Sans", sans-serif' font-size="5.7" fill="#2a2a2a" text-anchor="middle" font-weight="normal" font-style="normal" stroke="#2a2a2a" stroke-width="0.22">Wavelength, λ(μm)</text>
<text transform="translate(415.7,208) rotate(-90)" font-family='"Liberation Sans", sans-serif' font-size="5.6" fill="#2a2a2a" stroke="#2a2a2a" stroke-width="0.22" text-anchor="middle">Absorptivity, α</text>
<text x="431.8" y="180.6" font-family='"Liberation Serif", serif' font-size="9.2" fill="#222" text-anchor="start" font-weight="normal" font-style="normal" stroke="#222" stroke-width="0.2">(b)</text>
<defs><clipPath id="ind"><polygon points="461.3,186 468,184 532.4,200.800 532.4,231.2 461.3,231.2"/></clipPath>
<clipPath id="ind2"><polygon points="460,183.500 468,180.800 533.5,197.800 533.5,232 460,232"/></clipPath>
<linearGradient id="fade" x1="0.4" y1="0.2" x2="1" y2="1"><stop offset="0.4" stop-color="#fff" stop-opacity="0"/><stop offset="0.9" stop-color="#fff" stop-opacity="0.92"/></linearGradient></defs>
<g clip-path="url(#ind)">
<rect x="460" y="180" width="75" height="53" fill="#a6d0cc"/>
<polygon points="437.5,154.1 449.9,157.1 445.5,166.3 433.1,163.3" fill="#f89636"/>
<polygon points="433.1,163.3 445.5,166.3 445.5,167.5 433.1,164.5" fill="#e07e22"/>
<polygon points="432.0,165.6 444.4,168.6 440.0,177.8 427.6,174.8" fill="#f89636"/>
<polygon points="427.6,174.8 440.0,177.8 440.0,179.0 427.6,176.0" fill="#e07e22"/>
<polygon points="426.5,177.1 438.9,180.1 434.5,189.3 422.1,186.3" fill="#f89636"/>
<polygon points="422.1,186.3 434.5,189.3 434.5,190.5 422.1,187.5" fill="#e07e22"/>
<polygon points="421.0,188.6 433.4,191.6 429.0,200.8 416.6,197.8" fill="#f89636"/>
<polygon points="416.6,197.8 429.0,200.8 429.0,202.0 416.6,199.0" fill="#e07e22"/>
<polygon points="415.5,200.1 427.9,203.1 423.5,212.3 411.1,209.3" fill="#f89636"/>
<polygon points="411.1,209.3 423.5,212.3 423.5,213.5 411.1,210.5" fill="#e07e22"/>
<polygon points="410.0,211.6 422.4,214.6 418.0,223.8 405.6,220.8" fill="#f89636"/>
<polygon points="405.6,220.8 418.0,223.8 418.0,225.0 405.6,222.0" fill="#e07e22"/>
<polygon points="404.5,223.1 416.9,226.1 412.5,235.3 400.1,232.3" fill="#f89636"/>
<polygon points="400.1,232.3 412.5,235.3 412.5,236.5 400.1,233.5" fill="#e07e22"/>
<polygon points="399.0,234.6 411.4,237.6 407.0,246.8 394.6,243.8" fill="#f89636"/>
<polygon points="394.6,243.8 407.0,246.8 407.0,248.0 394.6,245.0" fill="#e07e22"/>
<polygon points="453.0,157.8 465.4,160.8 461.0,170.0 448.6,167.0" fill="#f89636"/>
<polygon points="448.6,167.0 461.0,170.0 461.0,171.2 448.6,168.2" fill="#e07e22"/>
<polygon points="447.5,169.3 459.9,172.3 455.5,181.5 443.1,178.5" fill="#f89636"/>
<polygon points="443.1,178.5 455.5,181.5 455.5,182.7 443.1,179.7" fill="#e07e22"/>
<polygon points="442.0,180.8 454.4,183.8 450.0,193.0 437.6,190.0" fill="#f89636"/>
<polygon points="437.6,190.0 450.0,193.0 450.0,194.2 437.6,191.2" fill="#e07e22"/>
<polygon points="436.5,192.3 448.9,195.3 444.5,204.5 432.1,201.5" fill="#f89636"/>
<polygon points="432.1,201.5 444.5,204.5 444.5,205.7 432.1,202.7" fill="#e07e22"/>
<polygon points="431.0,203.8 443.4,206.8 439.0,216.0 426.6,213.0" fill="#f89636"/>
<polygon points="426.6,213.0 439.0,216.0 439.0,217.2 426.6,214.2" fill="#e07e22"/>
<polygon points="425.5,215.3 437.9,218.3 433.5,227.5 421.1,224.5" fill="#f89636"/>
<polygon points="421.1,224.5 433.5,227.5 433.5,228.7 421.1,225.7" fill="#e07e22"/>
<polygon points="420.0,226.8 432.4,229.8 428.0,239.0 415.6,236.0" fill="#f89636"/>
<polygon points="415.6,236.0 428.0,239.0 428.0,240.2 415.6,237.2" fill="#e07e22"/>
<polygon points="414.5,238.3 426.9,241.3 422.5,250.5 410.1,247.5" fill="#f89636"/>
<polygon points="410.1,247.5 422.5,250.5 422.5,251.7 410.1,248.7" fill="#e07e22"/>
<polygon points="468.5,161.5 480.9,164.5 476.5,173.7 464.1,170.7" fill="#f89636"/>
<polygon points="464.1,170.7 476.5,173.7 476.5,174.9 464.1,171.9" fill="#e07e22"/>
<polygon points="463.0,173.0 475.4,176.0 471.0,185.2 458.6,182.2" fill="#f89636"/>
<polygon points="458.6,182.2 471.0,185.2 471.0,186.4 458.6,183.4" fill="#e07e22"/>
<polygon points="457.5,184.5 469.9,187.5 465.5,196.7 453.1,193.7" fill="#f89636"/>
<polygon points="453.1,193.7 465.5,196.7 465.5,197.9 453.1,194.9" fill="#e07e22"/>
<polygon points="452.0,196.0 464.4,199.0 460.0,208.2 447.6,205.2" fill="#f89636"/>
<polygon points="447.6,205.2 460.0,208.2 460.0,209.4 447.6,206.4" fill="#e07e22"/>
<polygon points="446.5,207.5 458.9,210.5 454.5,219.7 442.1,216.7" fill="#f89636"/>
<polygon points="442.1,216.7 454.5,219.7 454.5,220.9 442.1,217.9" fill="#e07e22"/>
<polygon points="441.0,219.0 453.4,222.0 449.0,231.2 436.6,228.2" fill="#f89636"/>
<polygon points="436.6,228.2 449.0,231.2 449.0,232.4 436.6,229.4" fill="#e07e22"/>
<polygon points="435.5,230.5 447.9,233.5 443.5,242.7 431.1,239.7" fill="#f89636"/>
<polygon points="431.1,239.7 443.5,242.7 443.5,243.9 431.1,240.9" fill="#e07e22"/>
<polygon points="430.0,242.0 442.4,245.0 438.0,254.2 425.6,251.2" fill="#f89636"/>
<polygon points="425.6,251.2 438.0,254.2 438.0,255.4 425.6,252.4" fill="#e07e22"/>
<polygon points="484.0,165.2 496.4,168.2 492.0,177.4 479.6,174.4" fill="#f89636"/>
<polygon points="479.6,174.4 492.0,177.4 492.0,178.6 479.6,175.6" fill="#e07e22"/>
<polygon points="478.5,176.7 490.9,179.7 486.5,188.9 474.1,185.9" fill="#f89636"/>
<polygon points="474.1,185.9 486.5,188.9 486.5,190.1 474.1,187.1" fill="#e07e22"/>
<polygon points="473.0,188.2 485.4,191.2 481.0,200.4 468.6,197.4" fill="#f89636"/>
<polygon points="468.6,197.4 481.0,200.4 481.0,201.6 468.6,198.6" fill="#e07e22"/>
<polygon points="467.5,199.7 479.9,202.7 475.5,211.9 463.1,208.9" fill="#f89636"/>
<polygon points="463.1,208.9 475.5,211.9 475.5,213.1 463.1,210.1" fill="#e07e22"/>
<polygon points="462.0,211.2 474.4,214.2 470.0,223.4 457.6,220.4" fill="#f89636"/>
<polygon points="457.6,220.4 470.0,223.4 470.0,224.6 457.6,221.6" fill="#e07e22"/>
<polygon points="456.5,222.7 468.9,225.7 464.5,234.9 452.1,231.9" fill="#f89636"/>
<polygon points="452.1,231.9 464.5,234.9 464.5,236.1 452.1,233.1" fill="#e07e22"/>
<polygon points="451.0,234.2 463.4,237.2 459.0,246.4 446.6,243.4" fill="#f89636"/>
<polygon points="446.6,243.4 459.0,246.4 459.0,247.6 446.6,244.6" fill="#e07e22"/>
<polygon points="445.5,245.7 457.9,248.7 453.5,257.9 441.1,254.9" fill="#f89636"/>
<polygon points="441.1,254.9 453.5,257.9 453.5,259.1 441.1,256.1" fill="#e07e22"/>
<polygon points="499.5,168.9 511.9,171.9 507.5,181.1 495.1,178.1" fill="#f89636"/>
<polygon points="495.1,178.1 507.5,181.1 507.5,182.3 495.1,179.3" fill="#e07e22"/>
<polygon points="494.0,180.4 506.4,183.4 502.0,192.6 489.6,189.6" fill="#f89636"/>
<polygon points="489.6,189.6 502.0,192.6 502.0,193.8 489.6,190.8" fill="#e07e22"/>
<polygon points="488.5,191.9 500.9,194.9 496.5,204.1 484.1,201.1" fill="#f89636"/>
<polygon points="484.1,201.1 496.5,204.1 496.5,205.3 484.1,202.3" fill="#e07e22"/>
<polygon points="483.0,203.4 495.4,206.4 491.0,215.6 478.6,212.6" fill="#f89636"/>
<polygon points="478.6,212.6 491.0,215.6 491.0,216.8 478.6,213.8" fill="#e07e22"/>
<polygon points="477.5,214.9 489.9,217.9 485.5,227.1 473.1,224.1" fill="#f89636"/>
<polygon points="473.1,224.1 485.5,227.1 485.5,228.3 473.1,225.3" fill="#e07e22"/>
<polygon points="472.0,226.4 484.4,229.4 480.0,238.6 467.6,235.6" fill="#f89636"/>
<polygon points="467.6,235.6 480.0,238.6 480.0,239.8 467.6,236.8" fill="#e07e22"/>
<polygon points="466.5,237.9 478.9,240.9 474.5,250.1 462.1,247.1" fill="#f89636"/>
<polygon points="462.1,247.1 474.5,250.1 474.5,251.3 462.1,248.3" fill="#e07e22"/>
<polygon points="461.0,249.4 473.4,252.4 469.0,261.6 456.6,258.6" fill="#f89636"/>
<polygon points="456.6,258.6 469.0,261.6 469.0,262.8 456.6,259.8" fill="#e07e22"/>
<polygon points="515.0,172.6 527.4,175.6 523.0,184.8 510.6,181.8" fill="#f89636"/>
<polygon points="510.6,181.8 523.0,184.8 523.0,186.0 510.6,183.0" fill="#e07e22"/>
<polygon points="509.5,184.1 521.9,187.1 517.5,196.3 505.1,193.3" fill="#f89636"/>
<polygon points="505.1,193.3 517.5,196.3 517.5,197.5 505.1,194.5" fill="#e07e22"/>
<polygon points="504.0,195.6 516.4,198.6 512.0,207.8 499.6,204.8" fill="#f89636"/>
<polygon points="499.6,204.8 512.0,207.8 512.0,209.0 499.6,206.0" fill="#e07e22"/>
<polygon points="498.5,207.1 510.9,210.1 506.5,219.3 494.1,216.3" fill="#f89636"/>
<polygon points="494.1,216.3 506.5,219.3 506.5,220.5 494.1,217.5" fill="#e07e22"/>
<polygon points="493.0,218.6 505.4,221.6 501.0,230.8 488.6,227.8" fill="#f89636"/>
<polygon points="488.6,227.8 501.0,230.8 501.0,232.0 488.6,229.0" fill="#e07e22"/>
<polygon points="487.5,230.1 499.9,233.1 495.5,242.3 483.1,239.3" fill="#f89636"/>
<polygon points="483.1,239.3 495.5,242.3 495.5,243.5 483.1,240.5" fill="#e07e22"/>
<polygon points="482.0,241.6 494.4,244.6 490.0,253.8 477.6,250.8" fill="#f89636"/>
<polygon points="477.6,250.8 490.0,253.8 490.0,255.0 477.6,252.0" fill="#e07e22"/>
<polygon points="476.5,253.1 488.9,256.1 484.5,265.3 472.1,262.3" fill="#f89636"/>
<polygon points="472.1,262.3 484.5,265.3 484.5,266.5 472.1,263.5" fill="#e07e22"/>
<polygon points="530.5,176.3 542.9,179.3 538.5,188.5 526.1,185.5" fill="#f89636"/>
<polygon points="526.1,185.5 538.5,188.5 538.5,189.7 526.1,186.7" fill="#e07e22"/>
<polygon points="525.0,187.8 537.4,190.8 533.0,200.0 520.6,197.0" fill="#f89636"/>
<polygon points="520.6,197.0 533.0,200.0 533.0,201.2 520.6,198.2" fill="#e07e22"/>
<polygon points="519.5,199.3 531.9,202.3 527.5,211.5 515.1,208.5" fill="#f89636"/>
<polygon points="515.1,208.5 527.5,211.5 527.5,212.7 515.1,209.7" fill="#e07e22"/>
<polygon points="514.0,210.8 526.4,213.8 522.0,223.0 509.6,220.0" fill="#f89636"/>
<polygon points="509.6,220.0 522.0,223.0 522.0,224.2 509.6,221.2" fill="#e07e22"/>
<polygon points="508.5,222.3 520.9,225.3 516.5,234.5 504.1,231.5" fill="#f89636"/>
<polygon points="504.1,231.5 516.5,234.5 516.5,235.7 504.1,232.7" fill="#e07e22"/>
<polygon points="503.0,233.8 515.4,236.8 511.0,246.0 498.6,243.0" fill="#f89636"/>
<polygon points="498.6,243.0 511.0,246.0 511.0,247.2 498.6,244.2" fill="#e07e22"/>
<polygon points="497.5,245.3 509.9,248.3 505.5,257.5 493.1,254.5" fill="#f89636"/>
<polygon points="493.1,254.5 505.5,257.5 505.5,258.7 493.1,255.7" fill="#e07e22"/>
<polygon points="492.0,256.8 504.4,259.8 500.0,269.0 487.6,266.0" fill="#f89636"/>
<polygon points="487.6,266.0 500.0,269.0 500.0,270.2 487.6,267.2" fill="#e07e22"/>
<polygon points="546.0,180.0 558.4,183.0 554.0,192.2 541.6,189.2" fill="#f89636"/>
<polygon points="541.6,189.2 554.0,192.2 554.0,193.4 541.6,190.4" fill="#e07e22"/>
<polygon points="540.5,191.5 552.9,194.5 548.5,203.7 536.1,200.7" fill="#f89636"/>
<polygon points="536.1,200.7 548.5,203.7 548.5,204.9 536.1,201.9" fill="#e07e22"/>
<polygon points="535.0,203.0 547.4,206.0 543.0,215.2 530.6,212.2" fill="#f89636"/>
<polygon points="530.6,212.2 543.0,215.2 543.0,216.4 530.6,213.4" fill="#e07e22"/>
<polygon points="529.5,214.5 541.9,217.5 537.5,226.7 525.1,223.7" fill="#f89636"/>
<polygon points="525.1,223.7 537.5,226.7 537.5,227.9 525.1,224.9" fill="#e07e22"/>
<polygon points="524.0,226.0 536.4,229.0 532.0,238.2 519.6,235.2" fill="#f89636"/>
<polygon points="519.6,235.2 532.0,238.2 532.0,239.4 519.6,236.4" fill="#e07e22"/>
<polygon points="518.5,237.5 530.9,240.5 526.5,249.7 514.1,246.7" fill="#f89636"/>
<polygon points="514.1,246.7 526.5,249.7 526.5,250.9 514.1,247.9" fill="#e07e22"/>
<polygon points="513.0,249.0 525.4,252.0 521.0,261.2 508.6,258.2" fill="#f89636"/>
<polygon points="508.6,258.2 521.0,261.2 521.0,262.4 508.6,259.4" fill="#e07e22"/>
<polygon points="507.5,260.5 519.9,263.5 515.5,272.7 503.1,269.7" fill="#f89636"/>
<polygon points="503.1,269.7 515.5,272.7 515.5,273.9 503.1,270.9" fill="#e07e22"/>
<polygon points="561.5,183.7 573.9,186.7 569.5,195.9 557.1,192.9" fill="#f89636"/>
<polygon points="557.1,192.9 569.5,195.9 569.5,197.1 557.1,194.1" fill="#e07e22"/>
<polygon points="556.0,195.2 568.4,198.2 564.0,207.4 551.6,204.4" fill="#f89636"/>
<polygon points="551.6,204.4 564.0,207.4 564.0,208.6 551.6,205.6" fill="#e07e22"/>
<polygon points="550.5,206.7 562.9,209.7 558.5,218.9 546.1,215.9" fill="#f89636"/>
<polygon points="546.1,215.9 558.5,218.9 558.5,220.1 546.1,217.1" fill="#e07e22"/>
<polygon points="545.0,218.2 557.4,221.2 553.0,230.4 540.6,227.4" fill="#f89636"/>
<polygon points="540.6,227.4 553.0,230.4 553.0,231.6 540.6,228.6" fill="#e07e22"/>
<polygon points="539.5,229.7 551.9,232.7 547.5,241.9 535.1,238.9" fill="#f89636"/>
<polygon points="535.1,238.9 547.5,241.9 547.5,243.1 535.1,240.1" fill="#e07e22"/>
<polygon points="534.0,241.2 546.4,244.2 542.0,253.4 529.6,250.4" fill="#f89636"/>
<polygon points="529.6,250.4 542.0,253.4 542.0,254.6 529.6,251.6" fill="#e07e22"/>
<polygon points="528.5,252.7 540.9,255.7 536.5,264.9 524.1,261.9" fill="#f89636"/>
<polygon points="524.1,261.9 536.5,264.9 536.5,266.1 524.1,263.1" fill="#e07e22"/>
<polygon points="523.0,264.2 535.4,267.2 531.0,276.4 518.6,273.4" fill="#f89636"/>
<polygon points="518.6,273.4 531.0,276.4 531.0,277.6 518.6,274.6" fill="#e07e22"/>
<polygon points="577.0,187.4 589.4,190.4 585.0,199.6 572.6,196.6" fill="#f89636"/>
<polygon points="572.6,196.6 585.0,199.6 585.0,200.8 572.6,197.8" fill="#e07e22"/>
<polygon points="571.5,198.9 583.9,201.9 579.5,211.1 567.1,208.1" fill="#f89636"/>
<polygon points="567.1,208.1 579.5,211.1 579.5,212.3 567.1,209.3" fill="#e07e22"/>
<polygon points="566.0,210.4 578.4,213.4 574.0,222.6 561.6,219.6" fill="#f89636"/>
<polygon points="561.6,219.6 574.0,222.6 574.0,223.8 561.6,220.8" fill="#e07e22"/>
<polygon points="560.5,221.9 572.9,224.9 568.5,234.1 556.1,231.1" fill="#f89636"/>
<polygon points="556.1,231.1 568.5,234.1 568.5,235.3 556.1,232.3" fill="#e07e22"/>
<polygon points="555.0,233.4 567.4,236.4 563.0,245.6 550.6,242.6" fill="#f89636"/>
<polygon points="550.6,242.6 563.0,245.6 563.0,246.8 550.6,243.8" fill="#e07e22"/>
<polygon points="549.5,244.9 561.9,247.9 557.5,257.1 545.1,254.1" fill="#f89636"/>
<polygon points="545.1,254.1 557.5,257.1 557.5,258.3 545.1,255.3" fill="#e07e22"/>
<polygon points="544.0,256.4 556.4,259.4 552.0,268.6 539.6,265.6" fill="#f89636"/>
<polygon points="539.6,265.6 552.0,268.6 552.0,269.8 539.6,266.8" fill="#e07e22"/>
<polygon points="538.5,267.9 550.9,270.9 546.5,280.1 534.1,277.1" fill="#f89636"/>
<polygon points="534.1,277.1 546.5,280.1 546.5,281.3 534.1,278.3" fill="#e07e22"/>
<polygon points="592.5,191.1 604.9,194.1 600.5,203.3 588.1,200.3" fill="#f89636"/>
<polygon points="588.1,200.3 600.5,203.3 600.5,204.5 588.1,201.5" fill="#e07e22"/>
<polygon points="587.0,202.6 599.4,205.6 595.0,214.8 582.6,211.8" fill="#f89636"/>
<polygon points="582.6,211.8 595.0,214.8 595.0,216.0 582.6,213.0" fill="#e07e22"/>
<polygon points="581.5,214.1 593.9,217.1 589.5,226.3 577.1,223.3" fill="#f89636"/>
<polygon points="577.1,223.3 589.5,226.3 589.5,227.5 577.1,224.5" fill="#e07e22"/>
<polygon points="576.0,225.6 588.4,228.6 584.0,237.8 571.6,234.8" fill="#f89636"/>
<polygon points="571.6,234.8 584.0,237.8 584.0,239.0 571.6,236.0" fill="#e07e22"/>
<polygon points="570.5,237.1 582.9,240.1 578.5,249.3 566.1,246.3" fill="#f89636"/>
<polygon points="566.1,246.3 578.5,249.3 578.5,250.5 566.1,247.5" fill="#e07e22"/>
<polygon points="565.0,248.6 577.4,251.6 573.0,260.8 560.6,257.8" fill="#f89636"/>
<polygon points="560.6,257.8 573.0,260.8 573.0,262.0 560.6,259.0" fill="#e07e22"/>
<polygon points="559.5,260.1 571.9,263.1 567.5,272.3 555.1,269.3" fill="#f89636"/>
<polygon points="555.1,269.3 567.5,272.3 567.5,273.5 555.1,270.5" fill="#e07e22"/>
<polygon points="554.0,271.6 566.4,274.6 562.0,283.8 549.6,280.8" fill="#f89636"/>
<polygon points="549.6,280.8 562.0,283.8 562.0,285.0 549.6,282.0" fill="#e07e22"/>
<rect x="460" y="180" width="75" height="53" fill="url(#fade)"/>
</g>
<g clip-path="url(#ind2)">
<path d="M452.2 179.2L453.8 182.4 M453.8 182.4L461.0 181.5 M453.8 182.4L448.3 186.6 M464.9 174.1L466.5 177.3 M466.5 177.3L473.7 176.4 M466.5 177.3L461.0 181.5 M461.0 181.5L462.6 184.7 M462.6 184.7L469.8 183.8 M462.6 184.7L457.1 188.9 M457.1 188.9L458.7 192.1 M458.7 192.1L465.9 191.2 M458.7 192.1L453.2 196.3 M453.2 196.3L454.8 199.5 M454.8 199.5L462.0 198.6 M454.8 199.5L449.3 203.7 M473.7 176.4L475.3 179.6 M475.3 179.6L482.5 178.7 M475.3 179.6L469.8 183.8 M469.8 183.8L471.4 187.0 M471.4 187.0L478.6 186.1 M471.4 187.0L465.9 191.2 M465.9 191.2L467.5 194.4 M467.5 194.4L474.7 193.5 M467.5 194.4L462.0 198.6 M462.0 198.6L463.6 201.8 M463.6 201.8L470.8 200.9 M463.6 201.8L458.1 206.0 M458.1 206.0L459.7 209.2 M459.7 209.2L466.9 208.3 M459.7 209.2L454.2 213.4 M454.2 213.4L455.8 216.6 M455.8 216.6L463.0 215.7 M455.8 216.6L450.3 220.8 M482.5 178.7L484.1 181.9 M484.1 181.9L491.3 181.0 M484.1 181.9L478.6 186.1 M478.6 186.1L480.2 189.3 M480.2 189.3L487.4 188.4 M480.2 189.3L474.7 193.5 M474.7 193.5L476.3 196.7 M476.3 196.7L483.5 195.8 M476.3 196.7L470.8 200.9 M470.8 200.9L472.4 204.1 M472.4 204.1L479.6 203.2 M472.4 204.1L466.9 208.3 M466.9 208.3L468.5 211.5 M468.5 211.5L475.7 210.6 M468.5 211.5L463.0 215.7 M463.0 215.7L464.6 218.9 M464.6 218.9L471.8 218.0 M464.6 218.9L459.1 223.1 M459.1 223.1L460.7 226.3 M460.7 226.3L467.9 225.4 M460.7 226.3L455.2 230.5 M455.2 230.5L456.8 233.7 M456.8 233.7L464.0 232.8 M456.8 233.7L451.3 237.9 M495.2 173.6L496.8 176.8 M496.8 176.8L504.0 175.9 M496.8 176.8L491.3 181.0 M491.3 181.0L492.9 184.2 M492.9 184.2L500.1 183.3 M492.9 184.2L487.4 188.4 M487.4 188.4L489.0 191.6 M489.0 191.6L496.2 190.7 M489.0 191.6L483.5 195.8 M483.5 195.8L485.1 199.0 M485.1 199.0L492.3 198.1 M485.1 199.0L479.6 203.2 M479.6 203.2L481.2 206.4 M481.2 206.4L488.4 205.5 M481.2 206.4L475.7 210.6 M475.7 210.6L477.3 213.8 M477.3 213.8L484.5 212.9 M477.3 213.8L471.8 218.0 M471.8 218.0L473.4 221.2 M473.4 221.2L480.6 220.3 M473.4 221.2L467.9 225.4 M467.9 225.4L469.5 228.6 M469.5 228.6L476.7 227.7 M469.5 228.6L464.0 232.8 M464.0 232.8L465.6 236.0 M465.6 236.0L472.8 235.1 M465.6 236.0L460.1 240.2 M504.0 175.9L505.6 179.1 M505.6 179.1L512.8 178.2 M505.6 179.1L500.1 183.3 M500.1 183.3L501.7 186.5 M501.7 186.5L508.9 185.6 M501.7 186.5L496.2 190.7 M496.2 190.7L497.8 193.9 M497.8 193.9L505.0 193.0 M497.8 193.9L492.3 198.1 M492.3 198.1L493.9 201.3 M493.9 201.3L501.1 200.4 M493.9 201.3L488.4 205.5 M488.4 205.5L490.0 208.7 M490.0 208.7L497.2 207.8 M490.0 208.7L484.5 212.9 M484.5 212.9L486.1 216.1 M486.1 216.1L493.3 215.2 M486.1 216.1L480.6 220.3 M480.6 220.3L482.2 223.5 M482.2 223.5L489.4 222.6 M482.2 223.5L476.7 227.7 M476.7 227.7L478.3 230.9 M478.3 230.9L485.5 230.0 M478.3 230.9L472.8 235.1 M472.8 235.1L474.4 238.3 M474.4 238.3L481.6 237.4 M474.4 238.3L468.9 242.5 M512.8 178.2L514.4 181.4 M514.4 181.4L521.6 180.5 M514.4 181.4L508.9 185.6 M508.9 185.6L510.5 188.8 M510.5 188.8L517.7 187.9 M510.5 188.8L505.0 193.0 M505.0 193.0L506.6 196.2 M506.6 196.2L513.8 195.3 M506.6 196.2L501.1 200.4 M501.1 200.4L502.7 203.6 M502.7 203.6L509.9 202.7 M502.7 203.6L497.2 207.8 M497.2 207.8L498.8 211.0 M498.8 211.0L506.0 210.1 M498.8 211.0L493.3 215.2 M493.3 215.2L494.9 218.4 M494.9 218.4L502.1 217.5 M494.9 218.4L489.4 222.6 M489.4 222.6L491.0 225.8 M491.0 225.8L498.2 224.9 M491.0 225.8L485.5 230.0 M485.5 230.0L487.1 233.2 M487.1 233.2L494.3 232.3 M487.1 233.2L481.6 237.4 M481.6 237.4L483.2 240.6 M483.2 240.6L490.4 239.7 M483.2 240.6L477.7 244.8 M521.6 180.5L523.2 183.7 M523.2 183.7L530.4 182.8 M523.2 183.7L517.7 187.9 M517.7 187.9L519.3 191.1 M519.3 191.1L526.5 190.2 M519.3 191.1L513.8 195.3 M513.8 195.3L515.4 198.5 M515.4 198.5L522.6 197.6 M515.4 198.5L509.9 202.7 M509.9 202.7L511.5 205.9 M511.5 205.9L518.7 205.0 M511.5 205.9L506.0 210.1 M506.0 210.1L507.6 213.3 M507.6 213.3L514.8 212.4 M507.6 213.3L502.1 217.5 M502.1 217.5L503.7 220.7 M503.7 220.7L510.9 219.8 M503.7 220.7L498.2 224.9 M498.2 224.9L499.8 228.1 M499.8 228.1L507.0 227.2 M499.8 228.1L494.3 232.3 M494.3 232.3L495.9 235.5 M495.9 235.5L503.1 234.6 M495.9 235.5L490.4 239.7 M490.4 239.7L492.0 242.9 M492.0 242.9L499.2 242.0 M492.0 242.9L486.5 247.1 M530.4 182.8L532.0 186.0 M532.0 186.0L539.2 185.1 M532.0 186.0L526.5 190.2 M526.5 190.2L528.1 193.4 M528.1 193.4L535.3 192.5 M528.1 193.4L522.6 197.6 M522.6 197.6L524.2 200.8 M524.2 200.8L531.4 199.9 M524.2 200.8L518.7 205.0 M518.7 205.0L520.3 208.2 M520.3 208.2L527.5 207.3 M520.3 208.2L514.8 212.4 M514.8 212.4L516.4 215.6 M516.4 215.6L523.6 214.7 M516.4 215.6L510.9 219.8 M510.9 219.8L512.5 223.0 M512.5 223.0L519.7 222.1 M512.5 223.0L507.0 227.2 M507.0 227.2L508.6 230.4 M508.6 230.4L515.8 229.5 M508.6 230.4L503.1 234.6 M503.1 234.6L504.7 237.8 M504.7 237.8L511.9 236.9 M504.7 237.8L499.2 242.0 M539.2 185.1L540.8 188.3 M540.8 188.3L548.0 187.4 M540.8 188.3L535.3 192.5 M535.3 192.5L536.9 195.7 M536.9 195.7L544.1 194.8 M536.9 195.7L531.4 199.9 M531.4 199.9L533.0 203.1 M533.0 203.1L540.2 202.2 M533.0 203.1L527.5 207.3 M527.5 207.3L529.1 210.5 M529.1 210.5L536.3 209.6 M529.1 210.5L523.6 214.7 M523.6 214.7L525.2 217.9 M525.2 217.9L532.4 217.0 M525.2 217.9L519.7 222.1 M519.7 222.1L521.3 225.3 M521.3 225.3L528.5 224.4 M521.3 225.3L515.8 229.5 M515.8 229.5L517.4 232.7 M517.4 232.7L524.6 231.8 M517.4 232.7L511.9 236.9 M511.9 236.9L513.5 240.1 M513.5 240.1L520.7 239.2 M513.5 240.1L508.0 244.3 M540.2 202.2L541.8 205.4 M541.8 205.4L549.0 204.5 M541.8 205.4L536.3 209.6 M536.3 209.6L537.9 212.8 M537.9 212.8L545.1 211.9 M537.9 212.8L532.4 217.0 M532.4 217.0L534.0 220.2 M534.0 220.2L541.2 219.3 M534.0 220.2L528.5 224.4 M528.5 224.4L530.1 227.6 M530.1 227.6L537.3 226.7 M530.1 227.6L524.6 231.8 M524.6 231.8L526.2 235.0 M526.2 235.0L533.4 234.1 M526.2 235.0L520.7 239.2 M520.7 239.2L522.3 242.4 M522.3 242.4L529.5 241.5 M522.3 242.4L516.8 246.6 M541.2 219.3L542.8 222.5 M542.8 222.5L550.0 221.6 M542.8 222.5L537.3 226.7 M537.3 226.7L538.9 229.9 M538.9 229.9L546.1 229.0 M538.9 229.9L533.4 234.1 M533.4 234.1L535.0 237.3 M535.0 237.3L542.2 236.4 M535.0 237.3L529.5 241.5" stroke="#555" stroke-width="0.4" fill="none"/>
<g fill="#3e3e3e"><circle cx="452.2" cy="179.2" r="1.05"/><circle cx="453.8" cy="182.4" r="1.05"/><circle cx="464.9" cy="174.1" r="1.05"/><circle cx="466.5" cy="177.3" r="1.05"/><circle cx="461.0" cy="181.5" r="1.05"/><circle cx="462.6" cy="184.7" r="1.05"/><circle cx="457.1" cy="188.9" r="1.05"/><circle cx="458.7" cy="192.1" r="1.05"/><circle cx="453.2" cy="196.3" r="1.05"/><circle cx="454.8" cy="199.5" r="1.05"/><circle cx="473.7" cy="176.4" r="1.05"/><circle cx="475.3" cy="179.6" r="1.05"/><circle cx="469.8" cy="183.8" r="1.05"/><circle cx="471.4" cy="187.0" r="1.05"/><circle cx="465.9" cy="191.2" r="1.05"/><circle cx="467.5" cy="194.4" r="1.05"/><circle cx="462.0" cy="198.6" r="1.05"/><circle cx="463.6" cy="201.8" r="1.05"/><circle cx="458.1" cy="206.0" r="1.05"/><circle cx="459.7" cy="209.2" r="1.05"/><circle cx="454.2" cy="213.4" r="1.05"/><circle cx="455.8" cy="216.6" r="1.05"/><circle cx="482.5" cy="178.7" r="1.05"/><circle cx="484.1" cy="181.9" r="1.05"/><circle cx="478.6" cy="186.1" r="1.05"/><circle cx="480.2" cy="189.3" r="1.05"/><circle cx="474.7" cy="193.5" r="1.05"/><circle cx="476.3" cy="196.7" r="1.05"/><circle cx="470.8" cy="200.9" r="1.05"/><circle cx="472.4" cy="204.1" r="1.05"/><circle cx="466.9" cy="208.3" r="1.05"/><circle cx="468.5" cy="211.5" r="1.05"/><circle cx="463.0" cy="215.7" r="1.05"/><circle cx="464.6" cy="218.9" r="1.05"/><circle cx="459.1" cy="223.1" r="1.05"/><circle cx="460.7" cy="226.3" r="1.05"/><circle cx="455.2" cy="230.5" r="1.05"/><circle cx="456.8" cy="233.7" r="1.05"/><circle cx="495.2" cy="173.6" r="1.05"/><circle cx="496.8" cy="176.8" r="1.05"/><circle cx="491.3" cy="181.0" r="1.05"/><circle cx="492.9" cy="184.2" r="1.05"/><circle cx="487.4" cy="188.4" r="1.05"/><circle cx="489.0" cy="191.6" r="1.05"/><circle cx="483.5" cy="195.8" r="1.05"/><circle cx="485.1" cy="199.0" r="1.05"/><circle cx="479.6" cy="203.2" r="1.05"/><circle cx="481.2" cy="206.4" r="1.05"/><circle cx="475.7" cy="210.6" r="1.05"/><circle cx="477.3" cy="213.8" r="1.05"/><circle cx="471.8" cy="218.0" r="1.05"/><circle cx="473.4" cy="221.2" r="1.05"/><circle cx="467.9" cy="225.4" r="1.05"/><circle cx="469.5" cy="228.6" r="1.05"/><circle cx="464.0" cy="232.8" r="1.05"/><circle cx="465.6" cy="236.0" r="1.05"/><circle cx="504.0" cy="175.9" r="1.05"/><circle cx="505.6" cy="179.1" r="1.05"/><circle cx="500.1" cy="183.3" r="1.05"/><circle cx="501.7" cy="186.5" r="1.05"/><circle cx="496.2" cy="190.7" r="1.05"/><circle cx="497.8" cy="193.9" r="1.05"/><circle cx="492.3" cy="198.1" r="1.05"/><circle cx="493.9" cy="201.3" r="1.05"/><circle cx="488.4" cy="205.5" r="1.05"/><circle cx="490.0" cy="208.7" r="1.05"/><circle cx="484.5" cy="212.9" r="1.05"/><circle cx="486.1" cy="216.1" r="1.05"/><circle cx="480.6" cy="220.3" r="1.05"/><circle cx="482.2" cy="223.5" r="1.05"/><circle cx="476.7" cy="227.7" r="1.05"/><circle cx="478.3" cy="230.9" r="1.05"/><circle cx="472.8" cy="235.1" r="1.05"/><circle cx="474.4" cy="238.3" r="1.05"/><circle cx="512.8" cy="178.2" r="1.05"/><circle cx="514.4" cy="181.4" r="1.05"/><circle cx="508.9" cy="185.6" r="1.05"/><circle cx="510.5" cy="188.8" r="1.05"/><circle cx="505.0" cy="193.0" r="1.05"/><circle cx="506.6" cy="196.2" r="1.05"/><circle cx="501.1" cy="200.4" r="1.05"/><circle cx="502.7" cy="203.6" r="1.05"/><circle cx="497.2" cy="207.8" r="1.05"/><circle cx="498.8" cy="211.0" r="1.05"/><circle cx="493.3" cy="215.2" r="1.05"/><circle cx="494.9" cy="218.4" r="1.05"/><circle cx="489.4" cy="222.6" r="1.05"/><circle cx="491.0" cy="225.8" r="1.05"/><circle cx="485.5" cy="230.0" r="1.05"/><circle cx="487.1" cy="233.2" r="1.05"/><circle cx="481.6" cy="237.4" r="1.05"/><circle cx="483.2" cy="240.6" r="1.05"/><circle cx="521.6" cy="180.5" r="1.05"/><circle cx="523.2" cy="183.7" r="1.05"/><circle cx="517.7" cy="187.9" r="1.05"/><circle cx="519.3" cy="191.1" r="1.05"/><circle cx="513.8" cy="195.3" r="1.05"/><circle cx="515.4" cy="198.5" r="1.05"/><circle cx="509.9" cy="202.7" r="1.05"/><circle cx="511.5" cy="205.9" r="1.05"/><circle cx="506.0" cy="210.1" r="1.05"/><circle cx="507.6" cy="213.3" r="1.05"/><circle cx="502.1" cy="217.5" r="1.05"/><circle cx="503.7" cy="220.7" r="1.05"/><circle cx="498.2" cy="224.9" r="1.05"/><circle cx="499.8" cy="228.1" r="1.05"/><circle cx="494.3" cy="232.3" r="1.05"/><circle cx="495.9" cy="235.5" r="1.05"/><circle cx="490.4" cy="239.7" r="1.05"/><circle cx="492.0" cy="242.9" r="1.05"/><circle cx="530.4" cy="182.8" r="1.05"/><circle cx="532.0" cy="186.0" r="1.05"/><circle cx="526.5" cy="190.2" r="1.05"/><circle cx="528.1" cy="193.4" r="1.05"/><circle cx="522.6" cy="197.6" r="1.05"/><circle cx="524.2" cy="200.8" r="1.05"/><circle cx="518.7" cy="205.0" r="1.05"/><circle cx="520.3" cy="208.2" r="1.05"/><circle cx="514.8" cy="212.4" r="1.05"/><circle cx="516.4" cy="215.6" r="1.05"/><circle cx="510.9" cy="219.8" r="1.05"/><circle cx="512.5" cy="223.0" r="1.05"/><circle cx="507.0" cy="227.2" r="1.05"/><circle cx="508.6" cy="230.4" r="1.05"/><circle cx="503.1" cy="234.6" r="1.05"/><circle cx="504.7" cy="237.8" r="1.05"/><circle cx="539.2" cy="185.1" r="1.05"/><circle cx="540.8" cy="188.3" r="1.05"/><circle cx="535.3" cy="192.5" r="1.05"/><circle cx="536.9" cy="195.7" r="1.05"/><circle cx="531.4" cy="199.9" r="1.05"/><circle cx="533.0" cy="203.1" r="1.05"/><circle cx="527.5" cy="207.3" r="1.05"/><circle cx="529.1" cy="210.5" r="1.05"/><circle cx="523.6" cy="214.7" r="1.05"/><circle cx="525.2" cy="217.9" r="1.05"/><circle cx="519.7" cy="222.1" r="1.05"/><circle cx="521.3" cy="225.3" r="1.05"/><circle cx="515.8" cy="229.5" r="1.05"/><circle cx="517.4" cy="232.7" r="1.05"/><circle cx="511.9" cy="236.9" r="1.05"/><circle cx="513.5" cy="240.1" r="1.05"/><circle cx="540.2" cy="202.2" r="1.05"/><circle cx="541.8" cy="205.4" r="1.05"/><circle cx="536.3" cy="209.6" r="1.05"/><circle cx="537.9" cy="212.8" r="1.05"/><circle cx="532.4" cy="217.0" r="1.05"/><circle cx="534.0" cy="220.2" r="1.05"/><circle cx="528.5" cy="224.4" r="1.05"/><circle cx="530.1" cy="227.6" r="1.05"/><circle cx="524.6" cy="231.8" r="1.05"/><circle cx="526.2" cy="235.0" r="1.05"/><circle cx="520.7" cy="239.2" r="1.05"/><circle cx="522.3" cy="242.4" r="1.05"/><circle cx="541.2" cy="219.3" r="1.05"/><circle cx="542.8" cy="222.5" r="1.05"/><circle cx="537.3" cy="226.7" r="1.05"/><circle cx="538.9" cy="229.9" r="1.05"/><circle cx="533.4" cy="234.1" r="1.05"/><circle cx="535.0" cy="237.3" r="1.05"/></g>
</g>
</svg>
</body></html>
